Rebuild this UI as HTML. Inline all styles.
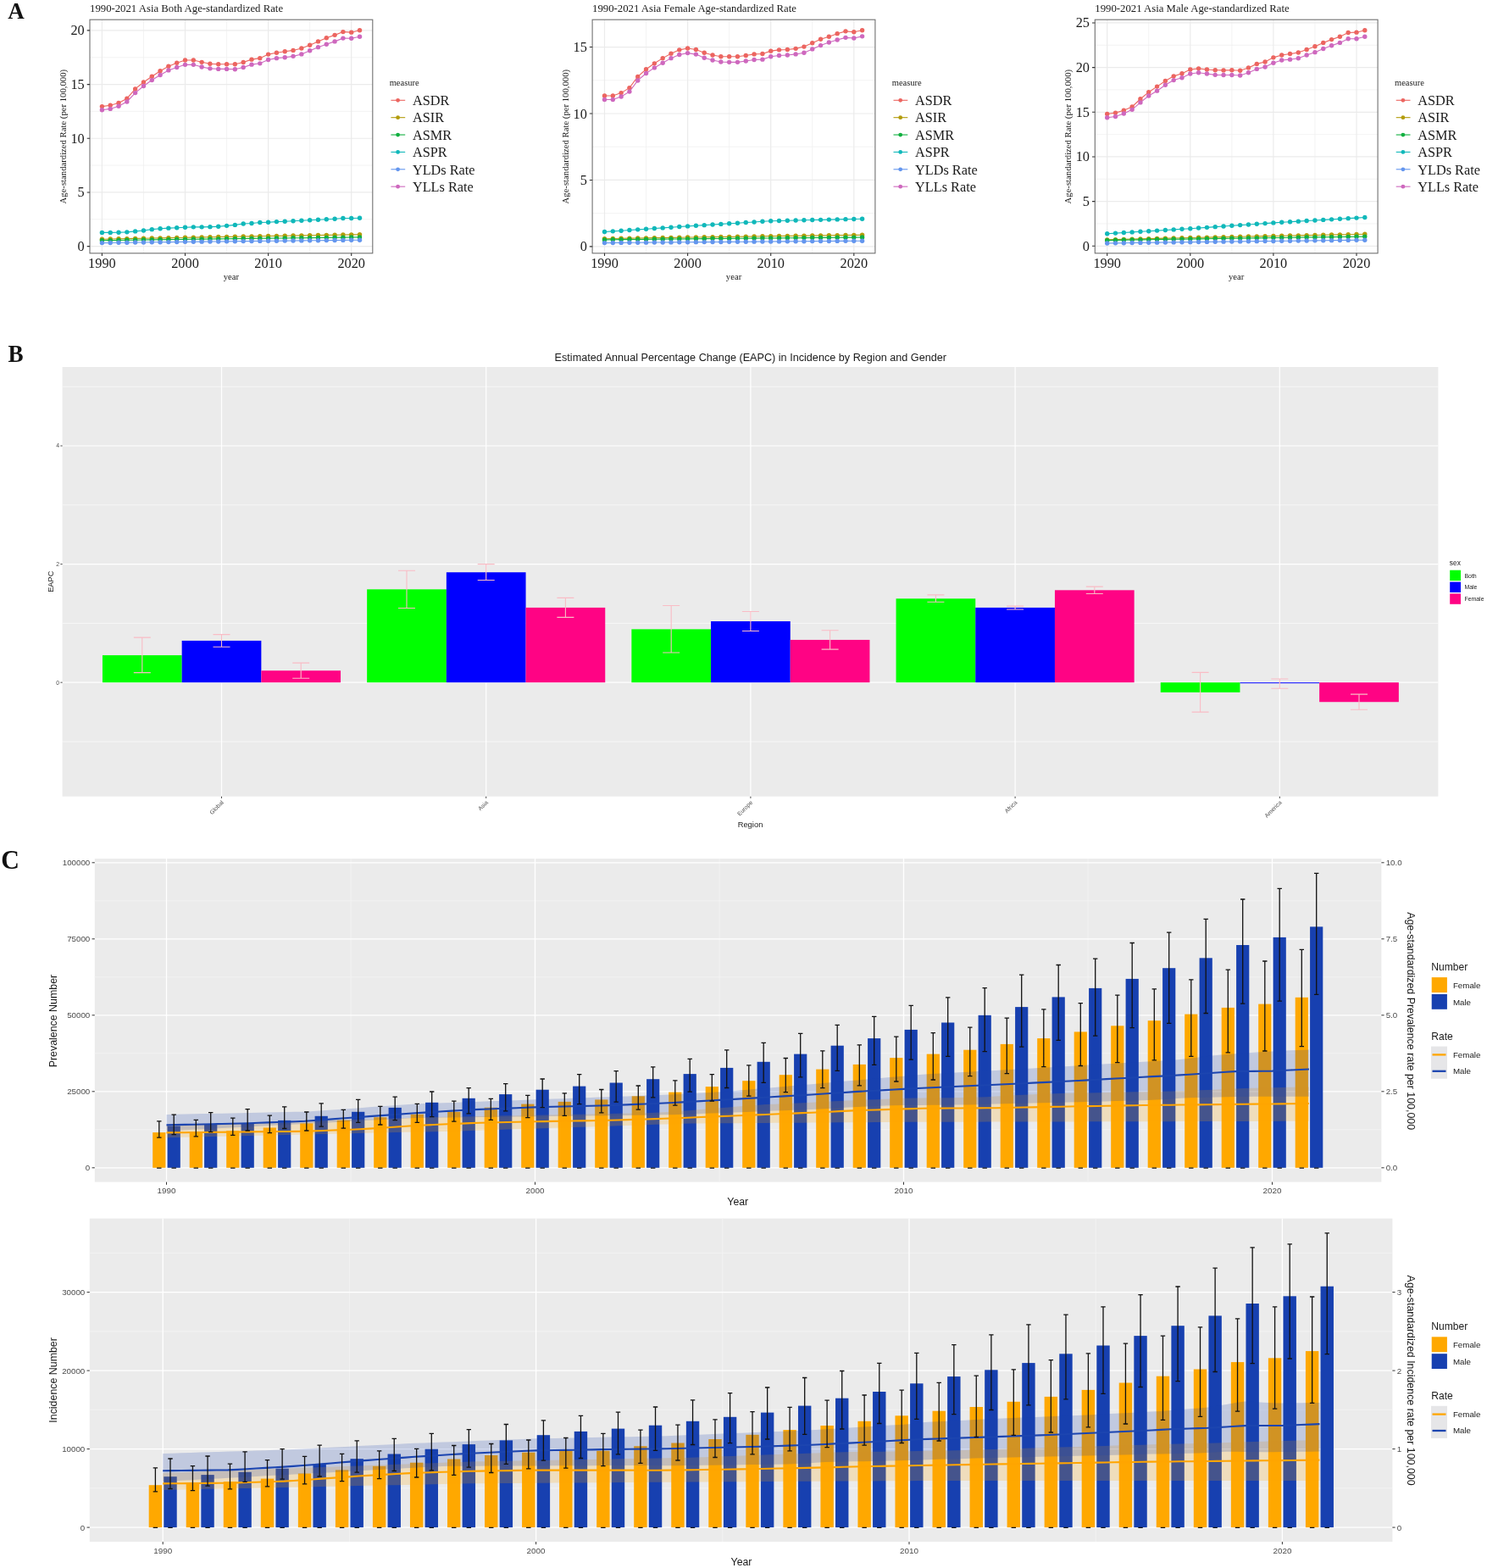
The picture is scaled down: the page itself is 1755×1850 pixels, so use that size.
<!DOCTYPE html><html><head><meta charset="utf-8"><title>Figure</title><style>html,body{margin:0;padding:0;background:#fff;}svg{display:block;}</style></head><body>
<svg width="1755" height="1850" viewBox="0 0 1755 1850">
<rect width="1755" height="1850" fill="#fff"/>
<text x="9.3" y="21.7" font-family="'Liberation Serif', 'Times New Roman', serif" font-weight="bold" font-size="27" fill="#111">A</text>
<text x="106" y="13.9" font-family="'Liberation Serif', 'Times New Roman', serif" font-size="12.75" fill="#1a1a1a">1990-2021 Asia Both Age-standardized Rate</text>
<rect x="106" y="23.2" width="333.8" height="275.6" fill="#fff"/>
<path d="M169.45 23.2V298.8M267.55 23.2V298.8M365.65 23.2V298.8M106 258.76H439.8M106 195.09H439.8M106 131.41H439.8M106 67.74H439.8" stroke="#F0F0F0" stroke-width="0.8" fill="none"/>
<path d="M120.4 23.2V298.8M218.5 23.2V298.8M316.6 23.2V298.8M414.7 23.2V298.8M106 290.6H439.8M106 226.93H439.8M106 163.25H439.8M106 99.58H439.8M106 35.9H439.8" stroke="#EBEBEB" stroke-width="1.2" fill="none"/>
<polyline points="120.4,282.3 130.21,282.05 140.02,281.82 149.83,281.62 159.64,281.41 169.45,281.22 179.26,281.02 189.07,280.83 198.88,280.65 208.69,280.46 218.5,280.28 228.31,280.1 238.12,279.92 247.93,279.74 257.74,279.56 267.55,279.39 277.36,279.21 287.17,279.04 296.98,278.87 306.79,278.7 316.6,278.53 326.41,278.36 336.22,278.19 346.03,278.02 355.84,277.85 365.65,277.69 375.46,277.52 385.27,277.35 395.08,277.19 404.89,277.03 414.7,276.86 424.51,276.7" fill="none" stroke="#B39C0C" stroke-width="1.1"/>
<g fill="#B39C0C"><circle cx="120.4" cy="282.3" r="2.7"/><circle cx="130.21" cy="282.05" r="2.7"/><circle cx="140.02" cy="281.82" r="2.7"/><circle cx="149.83" cy="281.62" r="2.7"/><circle cx="159.64" cy="281.41" r="2.7"/><circle cx="169.45" cy="281.22" r="2.7"/><circle cx="179.26" cy="281.02" r="2.7"/><circle cx="189.07" cy="280.83" r="2.7"/><circle cx="198.88" cy="280.65" r="2.7"/><circle cx="208.69" cy="280.46" r="2.7"/><circle cx="218.5" cy="280.28" r="2.7"/><circle cx="228.31" cy="280.1" r="2.7"/><circle cx="238.12" cy="279.92" r="2.7"/><circle cx="247.93" cy="279.74" r="2.7"/><circle cx="257.74" cy="279.56" r="2.7"/><circle cx="267.55" cy="279.39" r="2.7"/><circle cx="277.36" cy="279.21" r="2.7"/><circle cx="287.17" cy="279.04" r="2.7"/><circle cx="296.98" cy="278.87" r="2.7"/><circle cx="306.79" cy="278.7" r="2.7"/><circle cx="316.6" cy="278.53" r="2.7"/><circle cx="326.41" cy="278.36" r="2.7"/><circle cx="336.22" cy="278.19" r="2.7"/><circle cx="346.03" cy="278.02" r="2.7"/><circle cx="355.84" cy="277.85" r="2.7"/><circle cx="365.65" cy="277.69" r="2.7"/><circle cx="375.46" cy="277.52" r="2.7"/><circle cx="385.27" cy="277.35" r="2.7"/><circle cx="395.08" cy="277.19" r="2.7"/><circle cx="404.89" cy="277.03" r="2.7"/><circle cx="414.7" cy="276.86" r="2.7"/><circle cx="424.51" cy="276.7" r="2.7"/></g>
<polyline points="120.4,283.8 130.21,283.62 140.02,283.47 149.83,283.32 159.64,283.18 169.45,283.05 179.26,282.91 189.07,282.78 198.88,282.65 208.69,282.52 218.5,282.39 228.31,282.27 238.12,282.14 247.93,282.02 257.74,281.89 267.55,281.77 277.36,281.65 287.17,281.53 296.98,281.41 306.79,281.29 316.6,281.17 326.41,281.05 336.22,280.94 346.03,280.82 355.84,280.7 365.65,280.59 375.46,280.47 385.27,280.36 395.08,280.24 404.89,280.13 414.7,280.01 424.51,279.9" fill="none" stroke="#12B040" stroke-width="1.1"/>
<g fill="#12B040"><circle cx="120.4" cy="283.8" r="2.7"/><circle cx="130.21" cy="283.62" r="2.7"/><circle cx="140.02" cy="283.47" r="2.7"/><circle cx="149.83" cy="283.32" r="2.7"/><circle cx="159.64" cy="283.18" r="2.7"/><circle cx="169.45" cy="283.05" r="2.7"/><circle cx="179.26" cy="282.91" r="2.7"/><circle cx="189.07" cy="282.78" r="2.7"/><circle cx="198.88" cy="282.65" r="2.7"/><circle cx="208.69" cy="282.52" r="2.7"/><circle cx="218.5" cy="282.39" r="2.7"/><circle cx="228.31" cy="282.27" r="2.7"/><circle cx="238.12" cy="282.14" r="2.7"/><circle cx="247.93" cy="282.02" r="2.7"/><circle cx="257.74" cy="281.89" r="2.7"/><circle cx="267.55" cy="281.77" r="2.7"/><circle cx="277.36" cy="281.65" r="2.7"/><circle cx="287.17" cy="281.53" r="2.7"/><circle cx="296.98" cy="281.41" r="2.7"/><circle cx="306.79" cy="281.29" r="2.7"/><circle cx="316.6" cy="281.17" r="2.7"/><circle cx="326.41" cy="281.05" r="2.7"/><circle cx="336.22" cy="280.94" r="2.7"/><circle cx="346.03" cy="280.82" r="2.7"/><circle cx="355.84" cy="280.7" r="2.7"/><circle cx="365.65" cy="280.59" r="2.7"/><circle cx="375.46" cy="280.47" r="2.7"/><circle cx="385.27" cy="280.36" r="2.7"/><circle cx="395.08" cy="280.24" r="2.7"/><circle cx="404.89" cy="280.13" r="2.7"/><circle cx="414.7" cy="280.01" r="2.7"/><circle cx="424.51" cy="279.9" r="2.7"/></g>
<polyline points="120.4,274.41 130.21,274.41 140.02,274.22 149.83,273.85 159.64,272.91 169.45,271.97 179.26,270.65 189.07,269.71 198.88,269.15 208.69,268.77 218.5,268.21 228.31,267.83 238.12,267.83 247.93,267.64 257.74,267.27 267.55,266.33 277.36,265.39 287.17,264.07 296.98,263.51 306.79,262.56 316.6,262.19 326.41,261.62 336.22,261.25 346.03,260.68 355.84,260.31 365.65,259.74 375.46,259.18 385.27,258.8 395.08,258.24 404.89,257.49 414.7,257.49 424.51,257.3" fill="none" stroke="#10B8BA" stroke-width="1.1"/>
<g fill="#10B8BA"><circle cx="120.4" cy="274.41" r="2.7"/><circle cx="130.21" cy="274.41" r="2.7"/><circle cx="140.02" cy="274.22" r="2.7"/><circle cx="149.83" cy="273.85" r="2.7"/><circle cx="159.64" cy="272.91" r="2.7"/><circle cx="169.45" cy="271.97" r="2.7"/><circle cx="179.26" cy="270.65" r="2.7"/><circle cx="189.07" cy="269.71" r="2.7"/><circle cx="198.88" cy="269.15" r="2.7"/><circle cx="208.69" cy="268.77" r="2.7"/><circle cx="218.5" cy="268.21" r="2.7"/><circle cx="228.31" cy="267.83" r="2.7"/><circle cx="238.12" cy="267.83" r="2.7"/><circle cx="247.93" cy="267.64" r="2.7"/><circle cx="257.74" cy="267.27" r="2.7"/><circle cx="267.55" cy="266.33" r="2.7"/><circle cx="277.36" cy="265.39" r="2.7"/><circle cx="287.17" cy="264.07" r="2.7"/><circle cx="296.98" cy="263.51" r="2.7"/><circle cx="306.79" cy="262.56" r="2.7"/><circle cx="316.6" cy="262.19" r="2.7"/><circle cx="326.41" cy="261.62" r="2.7"/><circle cx="336.22" cy="261.25" r="2.7"/><circle cx="346.03" cy="260.68" r="2.7"/><circle cx="355.84" cy="260.31" r="2.7"/><circle cx="365.65" cy="259.74" r="2.7"/><circle cx="375.46" cy="259.18" r="2.7"/><circle cx="385.27" cy="258.8" r="2.7"/><circle cx="395.08" cy="258.24" r="2.7"/><circle cx="404.89" cy="257.49" r="2.7"/><circle cx="414.7" cy="257.49" r="2.7"/><circle cx="424.51" cy="257.3" r="2.7"/></g>
<polyline points="120.4,286.6 130.21,286.45 140.02,286.31 149.83,286.18 159.64,286.06 169.45,285.94 179.26,285.82 189.07,285.71 198.88,285.6 208.69,285.48 218.5,285.37 228.31,285.26 238.12,285.15 247.93,285.04 257.74,284.94 267.55,284.83 277.36,284.73 287.17,284.62 296.98,284.52 306.79,284.41 316.6,284.31 326.41,284.21 336.22,284.1 346.03,284 355.84,283.9 365.65,283.8 375.46,283.7 385.27,283.6 395.08,283.5 404.89,283.4 414.7,283.3 424.51,283.2" fill="none" stroke="#6496EE" stroke-width="1.1"/>
<g fill="#6496EE"><circle cx="120.4" cy="286.6" r="2.7"/><circle cx="130.21" cy="286.45" r="2.7"/><circle cx="140.02" cy="286.31" r="2.7"/><circle cx="149.83" cy="286.18" r="2.7"/><circle cx="159.64" cy="286.06" r="2.7"/><circle cx="169.45" cy="285.94" r="2.7"/><circle cx="179.26" cy="285.82" r="2.7"/><circle cx="189.07" cy="285.71" r="2.7"/><circle cx="198.88" cy="285.6" r="2.7"/><circle cx="208.69" cy="285.48" r="2.7"/><circle cx="218.5" cy="285.37" r="2.7"/><circle cx="228.31" cy="285.26" r="2.7"/><circle cx="238.12" cy="285.15" r="2.7"/><circle cx="247.93" cy="285.04" r="2.7"/><circle cx="257.74" cy="284.94" r="2.7"/><circle cx="267.55" cy="284.83" r="2.7"/><circle cx="277.36" cy="284.73" r="2.7"/><circle cx="287.17" cy="284.62" r="2.7"/><circle cx="296.98" cy="284.52" r="2.7"/><circle cx="306.79" cy="284.41" r="2.7"/><circle cx="316.6" cy="284.31" r="2.7"/><circle cx="326.41" cy="284.21" r="2.7"/><circle cx="336.22" cy="284.1" r="2.7"/><circle cx="346.03" cy="284" r="2.7"/><circle cx="355.84" cy="283.9" r="2.7"/><circle cx="365.65" cy="283.8" r="2.7"/><circle cx="375.46" cy="283.7" r="2.7"/><circle cx="385.27" cy="283.6" r="2.7"/><circle cx="395.08" cy="283.5" r="2.7"/><circle cx="404.89" cy="283.4" r="2.7"/><circle cx="414.7" cy="283.3" r="2.7"/><circle cx="424.51" cy="283.2" r="2.7"/></g>
<polyline points="120.4,125.6 130.21,124.29 140.02,121.46 149.83,116.2 159.64,104.92 169.45,97.02 179.26,90.25 189.07,83.67 198.88,78.22 208.69,74.27 218.5,71.07 228.31,71.07 238.12,73.33 247.93,75.21 257.74,75.77 267.55,75.77 277.36,75.77 287.17,73.51 296.98,70.13 306.79,68.63 316.6,64.11 326.41,62.23 336.22,60.73 346.03,59.41 355.84,56.97 365.65,53.21 375.46,48.88 385.27,44.74 395.08,41.36 404.89,37.6 414.7,38.16 424.51,35.72" fill="none" stroke="#EC6560" stroke-width="1.1"/>
<g fill="#EC6560"><circle cx="120.4" cy="125.6" r="2.7"/><circle cx="130.21" cy="124.29" r="2.7"/><circle cx="140.02" cy="121.46" r="2.7"/><circle cx="149.83" cy="116.2" r="2.7"/><circle cx="159.64" cy="104.92" r="2.7"/><circle cx="169.45" cy="97.02" r="2.7"/><circle cx="179.26" cy="90.25" r="2.7"/><circle cx="189.07" cy="83.67" r="2.7"/><circle cx="198.88" cy="78.22" r="2.7"/><circle cx="208.69" cy="74.27" r="2.7"/><circle cx="218.5" cy="71.07" r="2.7"/><circle cx="228.31" cy="71.07" r="2.7"/><circle cx="238.12" cy="73.33" r="2.7"/><circle cx="247.93" cy="75.21" r="2.7"/><circle cx="257.74" cy="75.77" r="2.7"/><circle cx="267.55" cy="75.77" r="2.7"/><circle cx="277.36" cy="75.77" r="2.7"/><circle cx="287.17" cy="73.51" r="2.7"/><circle cx="296.98" cy="70.13" r="2.7"/><circle cx="306.79" cy="68.63" r="2.7"/><circle cx="316.6" cy="64.11" r="2.7"/><circle cx="326.41" cy="62.23" r="2.7"/><circle cx="336.22" cy="60.73" r="2.7"/><circle cx="346.03" cy="59.41" r="2.7"/><circle cx="355.84" cy="56.97" r="2.7"/><circle cx="365.65" cy="53.21" r="2.7"/><circle cx="375.46" cy="48.88" r="2.7"/><circle cx="385.27" cy="44.74" r="2.7"/><circle cx="395.08" cy="41.36" r="2.7"/><circle cx="404.89" cy="37.6" r="2.7"/><circle cx="414.7" cy="38.16" r="2.7"/><circle cx="424.51" cy="35.72" r="2.7"/></g>
<polyline points="120.4,129.74 130.21,128.42 140.02,125.23 149.83,119.96 159.64,109.62 169.45,101.53 179.26,94.58 189.07,88.56 198.88,82.92 208.69,79.53 218.5,76.34 228.31,76.34 238.12,78.97 247.93,80.85 257.74,81.41 267.55,81.41 277.36,81.79 287.17,79.53 296.98,76.15 306.79,74.83 316.6,70.51 326.41,68.63 336.22,67.69 346.03,66.37 355.84,63.92 365.65,59.79 375.46,55.65 385.27,52.27 395.08,48.88 404.89,45.12 414.7,45.31 424.51,43.24" fill="none" stroke="#CE68BE" stroke-width="1.1"/>
<g fill="#CE68BE"><circle cx="120.4" cy="129.74" r="2.7"/><circle cx="130.21" cy="128.42" r="2.7"/><circle cx="140.02" cy="125.23" r="2.7"/><circle cx="149.83" cy="119.96" r="2.7"/><circle cx="159.64" cy="109.62" r="2.7"/><circle cx="169.45" cy="101.53" r="2.7"/><circle cx="179.26" cy="94.58" r="2.7"/><circle cx="189.07" cy="88.56" r="2.7"/><circle cx="198.88" cy="82.92" r="2.7"/><circle cx="208.69" cy="79.53" r="2.7"/><circle cx="218.5" cy="76.34" r="2.7"/><circle cx="228.31" cy="76.34" r="2.7"/><circle cx="238.12" cy="78.97" r="2.7"/><circle cx="247.93" cy="80.85" r="2.7"/><circle cx="257.74" cy="81.41" r="2.7"/><circle cx="267.55" cy="81.41" r="2.7"/><circle cx="277.36" cy="81.79" r="2.7"/><circle cx="287.17" cy="79.53" r="2.7"/><circle cx="296.98" cy="76.15" r="2.7"/><circle cx="306.79" cy="74.83" r="2.7"/><circle cx="316.6" cy="70.51" r="2.7"/><circle cx="326.41" cy="68.63" r="2.7"/><circle cx="336.22" cy="67.69" r="2.7"/><circle cx="346.03" cy="66.37" r="2.7"/><circle cx="355.84" cy="63.92" r="2.7"/><circle cx="365.65" cy="59.79" r="2.7"/><circle cx="375.46" cy="55.65" r="2.7"/><circle cx="385.27" cy="52.27" r="2.7"/><circle cx="395.08" cy="48.88" r="2.7"/><circle cx="404.89" cy="45.12" r="2.7"/><circle cx="414.7" cy="45.31" r="2.7"/><circle cx="424.51" cy="43.24" r="2.7"/></g>
<rect x="106" y="23.2" width="333.8" height="275.6" fill="none" stroke="#707070" stroke-width="1.1"/>
<path d="M102.7 290.6H106M102.7 226.93H106M102.7 163.25H106M102.7 99.58H106M102.7 35.9H106M120.4 298.8V302.1M218.5 298.8V302.1M316.6 298.8V302.1M414.7 298.8V302.1" stroke="#333" stroke-width="1.1" fill="none"/>
<text x="99.7" y="296.1" text-anchor="end" font-family="'Liberation Serif', 'Times New Roman', serif" font-size="16.3" fill="#1a1a1a">0</text>
<text x="99.7" y="232.43" text-anchor="end" font-family="'Liberation Serif', 'Times New Roman', serif" font-size="16.3" fill="#1a1a1a">5</text>
<text x="99.7" y="168.75" text-anchor="end" font-family="'Liberation Serif', 'Times New Roman', serif" font-size="16.3" fill="#1a1a1a">10</text>
<text x="99.7" y="105.08" text-anchor="end" font-family="'Liberation Serif', 'Times New Roman', serif" font-size="16.3" fill="#1a1a1a">15</text>
<text x="99.7" y="41.4" text-anchor="end" font-family="'Liberation Serif', 'Times New Roman', serif" font-size="16.3" fill="#1a1a1a">20</text>
<text x="120.4" y="316.4" text-anchor="middle" font-family="'Liberation Serif', 'Times New Roman', serif" font-size="16.3" fill="#1a1a1a">1990</text>
<text x="218.5" y="316.4" text-anchor="middle" font-family="'Liberation Serif', 'Times New Roman', serif" font-size="16.3" fill="#1a1a1a">2000</text>
<text x="316.6" y="316.4" text-anchor="middle" font-family="'Liberation Serif', 'Times New Roman', serif" font-size="16.3" fill="#1a1a1a">2010</text>
<text x="414.7" y="316.4" text-anchor="middle" font-family="'Liberation Serif', 'Times New Roman', serif" font-size="16.3" fill="#1a1a1a">2020</text>
<text x="272.9" y="330" text-anchor="middle" font-family="'Liberation Serif', 'Times New Roman', serif" font-size="10.7" fill="#1a1a1a">year</text>
<text transform="translate(77.7,161.2) rotate(-90)" text-anchor="middle" font-family="'Liberation Serif', 'Times New Roman', serif" font-size="10.7" fill="#1a1a1a">Age-standardized Rate (per 100,000)</text>
<text x="459.7" y="101.1" font-family="'Liberation Serif', 'Times New Roman', serif" font-size="10.5" fill="#1a1a1a">measure</text>
<path d="M461.4 118.3H478.2" stroke="#EC6560" stroke-width="1.1"/>
<circle cx="469.6" cy="118.3" r="2.4" fill="#EC6560"/>
<text x="486.9" y="124.1" font-family="'Liberation Serif', 'Times New Roman', serif" font-size="16.3" fill="#1a1a1a">ASDR</text>
<path d="M461.4 138.67H478.2" stroke="#B39C0C" stroke-width="1.1"/>
<circle cx="469.6" cy="138.67" r="2.4" fill="#B39C0C"/>
<text x="486.9" y="144.47" font-family="'Liberation Serif', 'Times New Roman', serif" font-size="16.3" fill="#1a1a1a">ASIR</text>
<path d="M461.4 159.04H478.2" stroke="#12B040" stroke-width="1.1"/>
<circle cx="469.6" cy="159.04" r="2.4" fill="#12B040"/>
<text x="486.9" y="164.84" font-family="'Liberation Serif', 'Times New Roman', serif" font-size="16.3" fill="#1a1a1a">ASMR</text>
<path d="M461.4 179.41H478.2" stroke="#10B8BA" stroke-width="1.1"/>
<circle cx="469.6" cy="179.41" r="2.4" fill="#10B8BA"/>
<text x="486.9" y="185.21" font-family="'Liberation Serif', 'Times New Roman', serif" font-size="16.3" fill="#1a1a1a">ASPR</text>
<path d="M461.4 199.78H478.2" stroke="#6496EE" stroke-width="1.1"/>
<circle cx="469.6" cy="199.78" r="2.4" fill="#6496EE"/>
<text x="486.9" y="205.58" font-family="'Liberation Serif', 'Times New Roman', serif" font-size="16.3" fill="#1a1a1a">YLDs Rate</text>
<path d="M461.4 220.15H478.2" stroke="#CE68BE" stroke-width="1.1"/>
<circle cx="469.6" cy="220.15" r="2.4" fill="#CE68BE"/>
<text x="486.9" y="225.95" font-family="'Liberation Serif', 'Times New Roman', serif" font-size="16.3" fill="#1a1a1a">YLLs Rate</text>
<text x="699.1" y="13.9" font-family="'Liberation Serif', 'Times New Roman', serif" font-size="12.75" fill="#1a1a1a">1990-2021 Asia Female Age-standardized Rate</text>
<rect x="699.1" y="23.2" width="333.8" height="275.6" fill="#fff"/>
<path d="M762.55 23.2V298.8M860.65 23.2V298.8M958.75 23.2V298.8M699.1 251.67H1032.9M699.1 173.22H1032.9M699.1 94.77H1032.9" stroke="#F0F0F0" stroke-width="0.8" fill="none"/>
<path d="M713.5 23.2V298.8M811.6 23.2V298.8M909.7 23.2V298.8M1007.8 23.2V298.8M699.1 290.9H1032.9M699.1 212.45H1032.9M699.1 134H1032.9M699.1 55.55H1032.9" stroke="#EBEBEB" stroke-width="1.2" fill="none"/>
<polyline points="713.5,281.7 723.31,281.5 733.12,281.32 742.93,281.15 752.74,280.99 762.55,280.83 772.36,280.67 782.17,280.52 791.98,280.37 801.79,280.22 811.6,280.07 821.41,279.93 831.22,279.78 841.03,279.64 850.84,279.5 860.65,279.36 870.46,279.22 880.27,279.08 890.08,278.94 899.89,278.8 909.7,278.67 919.51,278.53 929.32,278.4 939.13,278.26 948.94,278.13 958.75,277.99 968.56,277.86 978.37,277.73 988.18,277.59 997.99,277.46 1007.8,277.33 1017.61,277.2" fill="none" stroke="#B39C0C" stroke-width="1.1"/>
<g fill="#B39C0C"><circle cx="713.5" cy="281.7" r="2.7"/><circle cx="723.31" cy="281.5" r="2.7"/><circle cx="733.12" cy="281.32" r="2.7"/><circle cx="742.93" cy="281.15" r="2.7"/><circle cx="752.74" cy="280.99" r="2.7"/><circle cx="762.55" cy="280.83" r="2.7"/><circle cx="772.36" cy="280.67" r="2.7"/><circle cx="782.17" cy="280.52" r="2.7"/><circle cx="791.98" cy="280.37" r="2.7"/><circle cx="801.79" cy="280.22" r="2.7"/><circle cx="811.6" cy="280.07" r="2.7"/><circle cx="821.41" cy="279.93" r="2.7"/><circle cx="831.22" cy="279.78" r="2.7"/><circle cx="841.03" cy="279.64" r="2.7"/><circle cx="850.84" cy="279.5" r="2.7"/><circle cx="860.65" cy="279.36" r="2.7"/><circle cx="870.46" cy="279.22" r="2.7"/><circle cx="880.27" cy="279.08" r="2.7"/><circle cx="890.08" cy="278.94" r="2.7"/><circle cx="899.89" cy="278.8" r="2.7"/><circle cx="909.7" cy="278.67" r="2.7"/><circle cx="919.51" cy="278.53" r="2.7"/><circle cx="929.32" cy="278.4" r="2.7"/><circle cx="939.13" cy="278.26" r="2.7"/><circle cx="948.94" cy="278.13" r="2.7"/><circle cx="958.75" cy="277.99" r="2.7"/><circle cx="968.56" cy="277.86" r="2.7"/><circle cx="978.37" cy="277.73" r="2.7"/><circle cx="988.18" cy="277.59" r="2.7"/><circle cx="997.99" cy="277.46" r="2.7"/><circle cx="1007.8" cy="277.33" r="2.7"/><circle cx="1017.61" cy="277.2" r="2.7"/></g>
<polyline points="713.5,282.9 723.31,282.77 733.12,282.65 742.93,282.55 752.74,282.44 762.55,282.34 772.36,282.24 782.17,282.14 791.98,282.04 801.79,281.95 811.6,281.85 821.41,281.76 831.22,281.67 841.03,281.57 850.84,281.48 860.65,281.39 870.46,281.3 880.27,281.21 890.08,281.12 899.89,281.03 909.7,280.95 919.51,280.86 929.32,280.77 939.13,280.68 948.94,280.6 958.75,280.51 968.56,280.42 978.37,280.34 988.18,280.25 997.99,280.17 1007.8,280.08 1017.61,280" fill="none" stroke="#12B040" stroke-width="1.1"/>
<g fill="#12B040"><circle cx="713.5" cy="282.9" r="2.7"/><circle cx="723.31" cy="282.77" r="2.7"/><circle cx="733.12" cy="282.65" r="2.7"/><circle cx="742.93" cy="282.55" r="2.7"/><circle cx="752.74" cy="282.44" r="2.7"/><circle cx="762.55" cy="282.34" r="2.7"/><circle cx="772.36" cy="282.24" r="2.7"/><circle cx="782.17" cy="282.14" r="2.7"/><circle cx="791.98" cy="282.04" r="2.7"/><circle cx="801.79" cy="281.95" r="2.7"/><circle cx="811.6" cy="281.85" r="2.7"/><circle cx="821.41" cy="281.76" r="2.7"/><circle cx="831.22" cy="281.67" r="2.7"/><circle cx="841.03" cy="281.57" r="2.7"/><circle cx="850.84" cy="281.48" r="2.7"/><circle cx="860.65" cy="281.39" r="2.7"/><circle cx="870.46" cy="281.3" r="2.7"/><circle cx="880.27" cy="281.21" r="2.7"/><circle cx="890.08" cy="281.12" r="2.7"/><circle cx="899.89" cy="281.03" r="2.7"/><circle cx="909.7" cy="280.95" r="2.7"/><circle cx="919.51" cy="280.86" r="2.7"/><circle cx="929.32" cy="280.77" r="2.7"/><circle cx="939.13" cy="280.68" r="2.7"/><circle cx="948.94" cy="280.6" r="2.7"/><circle cx="958.75" cy="280.51" r="2.7"/><circle cx="968.56" cy="280.42" r="2.7"/><circle cx="978.37" cy="280.34" r="2.7"/><circle cx="988.18" cy="280.25" r="2.7"/><circle cx="997.99" cy="280.17" r="2.7"/><circle cx="1007.8" cy="280.08" r="2.7"/><circle cx="1017.61" cy="280" r="2.7"/></g>
<polyline points="713.5,273.5 723.31,272.84 733.12,272.18 742.93,271.52 752.74,270.86 762.55,270.2 772.36,269.54 782.17,268.88 791.98,268.22 801.79,267.56 811.6,266.9 821.41,266.28 831.22,265.66 841.03,265.04 850.84,264.42 860.65,263.8 870.46,263.18 880.27,262.56 890.08,261.94 899.89,261.32 909.7,260.7 919.51,260.47 929.32,260.25 939.13,260.02 948.94,259.79 958.75,259.56 968.56,259.34 978.37,259.11 988.18,258.88 997.99,258.65 1007.8,258.43 1017.61,258.2" fill="none" stroke="#10B8BA" stroke-width="1.1"/>
<g fill="#10B8BA"><circle cx="713.5" cy="273.5" r="2.7"/><circle cx="723.31" cy="272.84" r="2.7"/><circle cx="733.12" cy="272.18" r="2.7"/><circle cx="742.93" cy="271.52" r="2.7"/><circle cx="752.74" cy="270.86" r="2.7"/><circle cx="762.55" cy="270.2" r="2.7"/><circle cx="772.36" cy="269.54" r="2.7"/><circle cx="782.17" cy="268.88" r="2.7"/><circle cx="791.98" cy="268.22" r="2.7"/><circle cx="801.79" cy="267.56" r="2.7"/><circle cx="811.6" cy="266.9" r="2.7"/><circle cx="821.41" cy="266.28" r="2.7"/><circle cx="831.22" cy="265.66" r="2.7"/><circle cx="841.03" cy="265.04" r="2.7"/><circle cx="850.84" cy="264.42" r="2.7"/><circle cx="860.65" cy="263.8" r="2.7"/><circle cx="870.46" cy="263.18" r="2.7"/><circle cx="880.27" cy="262.56" r="2.7"/><circle cx="890.08" cy="261.94" r="2.7"/><circle cx="899.89" cy="261.32" r="2.7"/><circle cx="909.7" cy="260.7" r="2.7"/><circle cx="919.51" cy="260.47" r="2.7"/><circle cx="929.32" cy="260.25" r="2.7"/><circle cx="939.13" cy="260.02" r="2.7"/><circle cx="948.94" cy="259.79" r="2.7"/><circle cx="958.75" cy="259.56" r="2.7"/><circle cx="968.56" cy="259.34" r="2.7"/><circle cx="978.37" cy="259.11" r="2.7"/><circle cx="988.18" cy="258.88" r="2.7"/><circle cx="997.99" cy="258.65" r="2.7"/><circle cx="1007.8" cy="258.43" r="2.7"/><circle cx="1017.61" cy="258.2" r="2.7"/></g>
<polyline points="713.5,286.6 723.31,286.49 733.12,286.4 742.93,286.31 752.74,286.22 762.55,286.14 772.36,286.05 782.17,285.97 791.98,285.89 801.79,285.81 811.6,285.73 821.41,285.66 831.22,285.58 841.03,285.5 850.84,285.43 860.65,285.35 870.46,285.28 880.27,285.2 890.08,285.13 899.89,285.06 909.7,284.98 919.51,284.91 929.32,284.84 939.13,284.77 948.94,284.69 958.75,284.62 968.56,284.55 978.37,284.48 988.18,284.41 997.99,284.34 1007.8,284.27 1017.61,284.2" fill="none" stroke="#6496EE" stroke-width="1.1"/>
<g fill="#6496EE"><circle cx="713.5" cy="286.6" r="2.7"/><circle cx="723.31" cy="286.49" r="2.7"/><circle cx="733.12" cy="286.4" r="2.7"/><circle cx="742.93" cy="286.31" r="2.7"/><circle cx="752.74" cy="286.22" r="2.7"/><circle cx="762.55" cy="286.14" r="2.7"/><circle cx="772.36" cy="286.05" r="2.7"/><circle cx="782.17" cy="285.97" r="2.7"/><circle cx="791.98" cy="285.89" r="2.7"/><circle cx="801.79" cy="285.81" r="2.7"/><circle cx="811.6" cy="285.73" r="2.7"/><circle cx="821.41" cy="285.66" r="2.7"/><circle cx="831.22" cy="285.58" r="2.7"/><circle cx="841.03" cy="285.5" r="2.7"/><circle cx="850.84" cy="285.43" r="2.7"/><circle cx="860.65" cy="285.35" r="2.7"/><circle cx="870.46" cy="285.28" r="2.7"/><circle cx="880.27" cy="285.2" r="2.7"/><circle cx="890.08" cy="285.13" r="2.7"/><circle cx="899.89" cy="285.06" r="2.7"/><circle cx="909.7" cy="284.98" r="2.7"/><circle cx="919.51" cy="284.91" r="2.7"/><circle cx="929.32" cy="284.84" r="2.7"/><circle cx="939.13" cy="284.77" r="2.7"/><circle cx="948.94" cy="284.69" r="2.7"/><circle cx="958.75" cy="284.62" r="2.7"/><circle cx="968.56" cy="284.55" r="2.7"/><circle cx="978.37" cy="284.48" r="2.7"/><circle cx="988.18" cy="284.41" r="2.7"/><circle cx="997.99" cy="284.34" r="2.7"/><circle cx="1007.8" cy="284.27" r="2.7"/><circle cx="1017.61" cy="284.2" r="2.7"/></g>
<polyline points="713.5,113 723.31,113 733.12,109.62 742.93,103.6 752.74,90.44 762.55,81.79 772.36,74.83 782.17,68.63 791.98,63.17 801.79,58.85 811.6,56.97 821.41,58.47 831.22,62.23 841.03,65.05 850.84,66.75 860.65,66.75 870.46,66.75 880.27,65.43 890.08,63.92 899.89,63.55 909.7,60.16 919.51,58.85 929.32,58.47 939.13,57.34 948.94,55.09 958.75,50.76 968.56,46.25 978.37,43.24 988.18,39.67 997.99,36.85 1007.8,37.79 1017.61,35.72" fill="none" stroke="#EC6560" stroke-width="1.1"/>
<g fill="#EC6560"><circle cx="713.5" cy="113" r="2.7"/><circle cx="723.31" cy="113" r="2.7"/><circle cx="733.12" cy="109.62" r="2.7"/><circle cx="742.93" cy="103.6" r="2.7"/><circle cx="752.74" cy="90.44" r="2.7"/><circle cx="762.55" cy="81.79" r="2.7"/><circle cx="772.36" cy="74.83" r="2.7"/><circle cx="782.17" cy="68.63" r="2.7"/><circle cx="791.98" cy="63.17" r="2.7"/><circle cx="801.79" cy="58.85" r="2.7"/><circle cx="811.6" cy="56.97" r="2.7"/><circle cx="821.41" cy="58.47" r="2.7"/><circle cx="831.22" cy="62.23" r="2.7"/><circle cx="841.03" cy="65.05" r="2.7"/><circle cx="850.84" cy="66.75" r="2.7"/><circle cx="860.65" cy="66.75" r="2.7"/><circle cx="870.46" cy="66.75" r="2.7"/><circle cx="880.27" cy="65.43" r="2.7"/><circle cx="890.08" cy="63.92" r="2.7"/><circle cx="899.89" cy="63.55" r="2.7"/><circle cx="909.7" cy="60.16" r="2.7"/><circle cx="919.51" cy="58.85" r="2.7"/><circle cx="929.32" cy="58.47" r="2.7"/><circle cx="939.13" cy="57.34" r="2.7"/><circle cx="948.94" cy="55.09" r="2.7"/><circle cx="958.75" cy="50.76" r="2.7"/><circle cx="968.56" cy="46.25" r="2.7"/><circle cx="978.37" cy="43.24" r="2.7"/><circle cx="988.18" cy="39.67" r="2.7"/><circle cx="997.99" cy="36.85" r="2.7"/><circle cx="1007.8" cy="37.79" r="2.7"/><circle cx="1017.61" cy="35.72" r="2.7"/></g>
<polyline points="713.5,117.52 723.31,117.52 733.12,113.94 742.93,108.11 752.74,94.95 762.55,86.49 772.36,79.91 782.17,74.27 791.98,68.63 801.79,64.49 811.6,62.61 821.41,64.11 831.22,68.25 841.03,71.07 850.84,72.95 860.65,73.33 870.46,73.33 880.27,72.01 890.08,70.51 899.89,70.13 909.7,66.75 919.51,65.43 929.32,65.05 939.13,63.92 948.94,62.23 958.75,57.91 968.56,53.58 978.37,50.01 988.18,47 997.99,44.37 1007.8,44.93 1017.61,42.86" fill="none" stroke="#CE68BE" stroke-width="1.1"/>
<g fill="#CE68BE"><circle cx="713.5" cy="117.52" r="2.7"/><circle cx="723.31" cy="117.52" r="2.7"/><circle cx="733.12" cy="113.94" r="2.7"/><circle cx="742.93" cy="108.11" r="2.7"/><circle cx="752.74" cy="94.95" r="2.7"/><circle cx="762.55" cy="86.49" r="2.7"/><circle cx="772.36" cy="79.91" r="2.7"/><circle cx="782.17" cy="74.27" r="2.7"/><circle cx="791.98" cy="68.63" r="2.7"/><circle cx="801.79" cy="64.49" r="2.7"/><circle cx="811.6" cy="62.61" r="2.7"/><circle cx="821.41" cy="64.11" r="2.7"/><circle cx="831.22" cy="68.25" r="2.7"/><circle cx="841.03" cy="71.07" r="2.7"/><circle cx="850.84" cy="72.95" r="2.7"/><circle cx="860.65" cy="73.33" r="2.7"/><circle cx="870.46" cy="73.33" r="2.7"/><circle cx="880.27" cy="72.01" r="2.7"/><circle cx="890.08" cy="70.51" r="2.7"/><circle cx="899.89" cy="70.13" r="2.7"/><circle cx="909.7" cy="66.75" r="2.7"/><circle cx="919.51" cy="65.43" r="2.7"/><circle cx="929.32" cy="65.05" r="2.7"/><circle cx="939.13" cy="63.92" r="2.7"/><circle cx="948.94" cy="62.23" r="2.7"/><circle cx="958.75" cy="57.91" r="2.7"/><circle cx="968.56" cy="53.58" r="2.7"/><circle cx="978.37" cy="50.01" r="2.7"/><circle cx="988.18" cy="47" r="2.7"/><circle cx="997.99" cy="44.37" r="2.7"/><circle cx="1007.8" cy="44.93" r="2.7"/><circle cx="1017.61" cy="42.86" r="2.7"/></g>
<rect x="699.1" y="23.2" width="333.8" height="275.6" fill="none" stroke="#707070" stroke-width="1.1"/>
<path d="M695.8 290.9H699.1M695.8 212.45H699.1M695.8 134H699.1M695.8 55.55H699.1M713.5 298.8V302.1M811.6 298.8V302.1M909.7 298.8V302.1M1007.8 298.8V302.1" stroke="#333" stroke-width="1.1" fill="none"/>
<text x="692.8" y="296.4" text-anchor="end" font-family="'Liberation Serif', 'Times New Roman', serif" font-size="16.3" fill="#1a1a1a">0</text>
<text x="692.8" y="217.95" text-anchor="end" font-family="'Liberation Serif', 'Times New Roman', serif" font-size="16.3" fill="#1a1a1a">5</text>
<text x="692.8" y="139.5" text-anchor="end" font-family="'Liberation Serif', 'Times New Roman', serif" font-size="16.3" fill="#1a1a1a">10</text>
<text x="692.8" y="61.05" text-anchor="end" font-family="'Liberation Serif', 'Times New Roman', serif" font-size="16.3" fill="#1a1a1a">15</text>
<text x="713.5" y="316.4" text-anchor="middle" font-family="'Liberation Serif', 'Times New Roman', serif" font-size="16.3" fill="#1a1a1a">1990</text>
<text x="811.6" y="316.4" text-anchor="middle" font-family="'Liberation Serif', 'Times New Roman', serif" font-size="16.3" fill="#1a1a1a">2000</text>
<text x="909.7" y="316.4" text-anchor="middle" font-family="'Liberation Serif', 'Times New Roman', serif" font-size="16.3" fill="#1a1a1a">2010</text>
<text x="1007.8" y="316.4" text-anchor="middle" font-family="'Liberation Serif', 'Times New Roman', serif" font-size="16.3" fill="#1a1a1a">2020</text>
<text x="866" y="330" text-anchor="middle" font-family="'Liberation Serif', 'Times New Roman', serif" font-size="10.7" fill="#1a1a1a">year</text>
<text transform="translate(670.8,161.2) rotate(-90)" text-anchor="middle" font-family="'Liberation Serif', 'Times New Roman', serif" font-size="10.7" fill="#1a1a1a">Age-standardized Rate (per 100,000)</text>
<text x="1052.8" y="101.1" font-family="'Liberation Serif', 'Times New Roman', serif" font-size="10.5" fill="#1a1a1a">measure</text>
<path d="M1054.5 118.3H1071.3" stroke="#EC6560" stroke-width="1.1"/>
<circle cx="1062.7" cy="118.3" r="2.4" fill="#EC6560"/>
<text x="1080" y="124.1" font-family="'Liberation Serif', 'Times New Roman', serif" font-size="16.3" fill="#1a1a1a">ASDR</text>
<path d="M1054.5 138.67H1071.3" stroke="#B39C0C" stroke-width="1.1"/>
<circle cx="1062.7" cy="138.67" r="2.4" fill="#B39C0C"/>
<text x="1080" y="144.47" font-family="'Liberation Serif', 'Times New Roman', serif" font-size="16.3" fill="#1a1a1a">ASIR</text>
<path d="M1054.5 159.04H1071.3" stroke="#12B040" stroke-width="1.1"/>
<circle cx="1062.7" cy="159.04" r="2.4" fill="#12B040"/>
<text x="1080" y="164.84" font-family="'Liberation Serif', 'Times New Roman', serif" font-size="16.3" fill="#1a1a1a">ASMR</text>
<path d="M1054.5 179.41H1071.3" stroke="#10B8BA" stroke-width="1.1"/>
<circle cx="1062.7" cy="179.41" r="2.4" fill="#10B8BA"/>
<text x="1080" y="185.21" font-family="'Liberation Serif', 'Times New Roman', serif" font-size="16.3" fill="#1a1a1a">ASPR</text>
<path d="M1054.5 199.78H1071.3" stroke="#6496EE" stroke-width="1.1"/>
<circle cx="1062.7" cy="199.78" r="2.4" fill="#6496EE"/>
<text x="1080" y="205.58" font-family="'Liberation Serif', 'Times New Roman', serif" font-size="16.3" fill="#1a1a1a">YLDs Rate</text>
<path d="M1054.5 220.15H1071.3" stroke="#CE68BE" stroke-width="1.1"/>
<circle cx="1062.7" cy="220.15" r="2.4" fill="#CE68BE"/>
<text x="1080" y="225.95" font-family="'Liberation Serif', 'Times New Roman', serif" font-size="16.3" fill="#1a1a1a">YLLs Rate</text>
<text x="1292.3" y="13.9" font-family="'Liberation Serif', 'Times New Roman', serif" font-size="12.75" fill="#1a1a1a">1990-2021 Asia Male Age-standardized Rate</text>
<rect x="1292.3" y="23.2" width="333.8" height="275.6" fill="#fff"/>
<path d="M1355.75 23.2V298.8M1453.85 23.2V298.8M1551.95 23.2V298.8M1292.3 263.96H1626.1M1292.3 211.29H1626.1M1292.3 158.61H1626.1M1292.3 105.94H1626.1M1292.3 53.26H1626.1" stroke="#F0F0F0" stroke-width="0.8" fill="none"/>
<path d="M1306.7 23.2V298.8M1404.8 23.2V298.8M1502.9 23.2V298.8M1601 23.2V298.8M1292.3 290.3H1626.1M1292.3 237.62H1626.1M1292.3 184.95H1626.1M1292.3 132.28H1626.1M1292.3 79.6H1626.1M1292.3 26.93H1626.1" stroke="#EBEBEB" stroke-width="1.2" fill="none"/>
<polyline points="1306.7,282.9 1316.51,282.6 1326.32,282.34 1336.13,282.09 1345.94,281.85 1355.75,281.62 1365.56,281.39 1375.37,281.17 1385.18,280.95 1394.99,280.73 1404.8,280.52 1414.61,280.3 1424.42,280.09 1434.23,279.88 1444.04,279.67 1453.85,279.47 1463.66,279.26 1473.47,279.06 1483.28,278.85 1493.09,278.65 1502.9,278.45 1512.71,278.25 1522.52,278.05 1532.33,277.85 1542.14,277.66 1551.95,277.46 1561.76,277.27 1571.57,277.07 1581.38,276.88 1591.19,276.68 1601,276.49 1610.81,276.3" fill="none" stroke="#B39C0C" stroke-width="1.1"/>
<g fill="#B39C0C"><circle cx="1306.7" cy="282.9" r="2.7"/><circle cx="1316.51" cy="282.6" r="2.7"/><circle cx="1326.32" cy="282.34" r="2.7"/><circle cx="1336.13" cy="282.09" r="2.7"/><circle cx="1345.94" cy="281.85" r="2.7"/><circle cx="1355.75" cy="281.62" r="2.7"/><circle cx="1365.56" cy="281.39" r="2.7"/><circle cx="1375.37" cy="281.17" r="2.7"/><circle cx="1385.18" cy="280.95" r="2.7"/><circle cx="1394.99" cy="280.73" r="2.7"/><circle cx="1404.8" cy="280.52" r="2.7"/><circle cx="1414.61" cy="280.3" r="2.7"/><circle cx="1424.42" cy="280.09" r="2.7"/><circle cx="1434.23" cy="279.88" r="2.7"/><circle cx="1444.04" cy="279.67" r="2.7"/><circle cx="1453.85" cy="279.47" r="2.7"/><circle cx="1463.66" cy="279.26" r="2.7"/><circle cx="1473.47" cy="279.06" r="2.7"/><circle cx="1483.28" cy="278.85" r="2.7"/><circle cx="1493.09" cy="278.65" r="2.7"/><circle cx="1502.9" cy="278.45" r="2.7"/><circle cx="1512.71" cy="278.25" r="2.7"/><circle cx="1522.52" cy="278.05" r="2.7"/><circle cx="1532.33" cy="277.85" r="2.7"/><circle cx="1542.14" cy="277.66" r="2.7"/><circle cx="1551.95" cy="277.46" r="2.7"/><circle cx="1561.76" cy="277.27" r="2.7"/><circle cx="1571.57" cy="277.07" r="2.7"/><circle cx="1581.38" cy="276.88" r="2.7"/><circle cx="1591.19" cy="276.68" r="2.7"/><circle cx="1601" cy="276.49" r="2.7"/><circle cx="1610.81" cy="276.3" r="2.7"/></g>
<polyline points="1306.7,283.6 1316.51,283.4 1326.32,283.22 1336.13,283.05 1345.94,282.89 1355.75,282.73 1365.56,282.57 1375.37,282.42 1385.18,282.27 1394.99,282.12 1404.8,281.97 1414.61,281.83 1424.42,281.68 1434.23,281.54 1444.04,281.4 1453.85,281.26 1463.66,281.12 1473.47,280.98 1483.28,280.84 1493.09,280.7 1502.9,280.57 1512.71,280.43 1522.52,280.3 1532.33,280.16 1542.14,280.03 1551.95,279.89 1561.76,279.76 1571.57,279.63 1581.38,279.49 1591.19,279.36 1601,279.23 1610.81,279.1" fill="none" stroke="#12B040" stroke-width="1.1"/>
<g fill="#12B040"><circle cx="1306.7" cy="283.6" r="2.7"/><circle cx="1316.51" cy="283.4" r="2.7"/><circle cx="1326.32" cy="283.22" r="2.7"/><circle cx="1336.13" cy="283.05" r="2.7"/><circle cx="1345.94" cy="282.89" r="2.7"/><circle cx="1355.75" cy="282.73" r="2.7"/><circle cx="1365.56" cy="282.57" r="2.7"/><circle cx="1375.37" cy="282.42" r="2.7"/><circle cx="1385.18" cy="282.27" r="2.7"/><circle cx="1394.99" cy="282.12" r="2.7"/><circle cx="1404.8" cy="281.97" r="2.7"/><circle cx="1414.61" cy="281.83" r="2.7"/><circle cx="1424.42" cy="281.68" r="2.7"/><circle cx="1434.23" cy="281.54" r="2.7"/><circle cx="1444.04" cy="281.4" r="2.7"/><circle cx="1453.85" cy="281.26" r="2.7"/><circle cx="1463.66" cy="281.12" r="2.7"/><circle cx="1473.47" cy="280.98" r="2.7"/><circle cx="1483.28" cy="280.84" r="2.7"/><circle cx="1493.09" cy="280.7" r="2.7"/><circle cx="1502.9" cy="280.57" r="2.7"/><circle cx="1512.71" cy="280.43" r="2.7"/><circle cx="1522.52" cy="280.3" r="2.7"/><circle cx="1532.33" cy="280.16" r="2.7"/><circle cx="1542.14" cy="280.03" r="2.7"/><circle cx="1551.95" cy="279.89" r="2.7"/><circle cx="1561.76" cy="279.76" r="2.7"/><circle cx="1571.57" cy="279.63" r="2.7"/><circle cx="1581.38" cy="279.49" r="2.7"/><circle cx="1591.19" cy="279.36" r="2.7"/><circle cx="1601" cy="279.23" r="2.7"/><circle cx="1610.81" cy="279.1" r="2.7"/></g>
<polyline points="1306.7,275.7 1316.51,275.1 1326.32,274.5 1336.13,273.9 1345.94,273.3 1355.75,272.7 1365.56,272.1 1375.37,271.5 1385.18,270.9 1394.99,270.3 1404.8,269.7 1414.61,269.02 1424.42,268.34 1434.23,267.66 1444.04,266.98 1453.85,266.3 1463.66,265.62 1473.47,264.94 1483.28,264.26 1493.09,263.58 1502.9,262.9 1512.71,262.32 1522.52,261.74 1532.33,261.15 1542.14,260.57 1551.95,259.99 1561.76,259.41 1571.57,258.83 1581.38,258.25 1591.19,257.66 1601,257.08 1610.81,256.5" fill="none" stroke="#10B8BA" stroke-width="1.1"/>
<g fill="#10B8BA"><circle cx="1306.7" cy="275.7" r="2.7"/><circle cx="1316.51" cy="275.1" r="2.7"/><circle cx="1326.32" cy="274.5" r="2.7"/><circle cx="1336.13" cy="273.9" r="2.7"/><circle cx="1345.94" cy="273.3" r="2.7"/><circle cx="1355.75" cy="272.7" r="2.7"/><circle cx="1365.56" cy="272.1" r="2.7"/><circle cx="1375.37" cy="271.5" r="2.7"/><circle cx="1385.18" cy="270.9" r="2.7"/><circle cx="1394.99" cy="270.3" r="2.7"/><circle cx="1404.8" cy="269.7" r="2.7"/><circle cx="1414.61" cy="269.02" r="2.7"/><circle cx="1424.42" cy="268.34" r="2.7"/><circle cx="1434.23" cy="267.66" r="2.7"/><circle cx="1444.04" cy="266.98" r="2.7"/><circle cx="1453.85" cy="266.3" r="2.7"/><circle cx="1463.66" cy="265.62" r="2.7"/><circle cx="1473.47" cy="264.94" r="2.7"/><circle cx="1483.28" cy="264.26" r="2.7"/><circle cx="1493.09" cy="263.58" r="2.7"/><circle cx="1502.9" cy="262.9" r="2.7"/><circle cx="1512.71" cy="262.32" r="2.7"/><circle cx="1522.52" cy="261.74" r="2.7"/><circle cx="1532.33" cy="261.15" r="2.7"/><circle cx="1542.14" cy="260.57" r="2.7"/><circle cx="1551.95" cy="259.99" r="2.7"/><circle cx="1561.76" cy="259.41" r="2.7"/><circle cx="1571.57" cy="258.83" r="2.7"/><circle cx="1581.38" cy="258.25" r="2.7"/><circle cx="1591.19" cy="257.66" r="2.7"/><circle cx="1601" cy="257.08" r="2.7"/><circle cx="1610.81" cy="256.5" r="2.7"/></g>
<polyline points="1306.7,287 1316.51,286.83 1326.32,286.68 1336.13,286.54 1345.94,286.4 1355.75,286.26 1365.56,286.13 1375.37,286 1385.18,285.88 1394.99,285.75 1404.8,285.63 1414.61,285.5 1424.42,285.38 1434.23,285.26 1444.04,285.14 1453.85,285.02 1463.66,284.9 1473.47,284.79 1483.28,284.67 1493.09,284.55 1502.9,284.44 1512.71,284.32 1522.52,284.21 1532.33,284.1 1542.14,283.98 1551.95,283.87 1561.76,283.76 1571.57,283.64 1581.38,283.53 1591.19,283.42 1601,283.31 1610.81,283.2" fill="none" stroke="#6496EE" stroke-width="1.1"/>
<g fill="#6496EE"><circle cx="1306.7" cy="287" r="2.7"/><circle cx="1316.51" cy="286.83" r="2.7"/><circle cx="1326.32" cy="286.68" r="2.7"/><circle cx="1336.13" cy="286.54" r="2.7"/><circle cx="1345.94" cy="286.4" r="2.7"/><circle cx="1355.75" cy="286.26" r="2.7"/><circle cx="1365.56" cy="286.13" r="2.7"/><circle cx="1375.37" cy="286" r="2.7"/><circle cx="1385.18" cy="285.88" r="2.7"/><circle cx="1394.99" cy="285.75" r="2.7"/><circle cx="1404.8" cy="285.63" r="2.7"/><circle cx="1414.61" cy="285.5" r="2.7"/><circle cx="1424.42" cy="285.38" r="2.7"/><circle cx="1434.23" cy="285.26" r="2.7"/><circle cx="1444.04" cy="285.14" r="2.7"/><circle cx="1453.85" cy="285.02" r="2.7"/><circle cx="1463.66" cy="284.9" r="2.7"/><circle cx="1473.47" cy="284.79" r="2.7"/><circle cx="1483.28" cy="284.67" r="2.7"/><circle cx="1493.09" cy="284.55" r="2.7"/><circle cx="1502.9" cy="284.44" r="2.7"/><circle cx="1512.71" cy="284.32" r="2.7"/><circle cx="1522.52" cy="284.21" r="2.7"/><circle cx="1532.33" cy="284.1" r="2.7"/><circle cx="1542.14" cy="283.98" r="2.7"/><circle cx="1551.95" cy="283.87" r="2.7"/><circle cx="1561.76" cy="283.76" r="2.7"/><circle cx="1571.57" cy="283.64" r="2.7"/><circle cx="1581.38" cy="283.53" r="2.7"/><circle cx="1591.19" cy="283.42" r="2.7"/><circle cx="1601" cy="283.31" r="2.7"/><circle cx="1610.81" cy="283.2" r="2.7"/></g>
<polyline points="1306.7,134.44 1316.51,133.12 1326.32,130.3 1336.13,125.98 1345.94,116.76 1355.75,108.68 1365.56,102.1 1375.37,95.52 1385.18,89.87 1394.99,86.68 1404.8,81.98 1414.61,80.85 1424.42,81.98 1434.23,82.73 1444.04,82.92 1453.85,82.73 1463.66,83.29 1473.47,79.91 1483.28,75.39 1493.09,72.95 1502.9,67.87 1512.71,65.05 1522.52,63.55 1532.33,62.04 1542.14,58.47 1551.95,54.71 1561.76,50.39 1571.57,46.62 1581.38,43.24 1591.19,38.54 1601,38.16 1610.81,35.72" fill="none" stroke="#EC6560" stroke-width="1.1"/>
<g fill="#EC6560"><circle cx="1306.7" cy="134.44" r="2.7"/><circle cx="1316.51" cy="133.12" r="2.7"/><circle cx="1326.32" cy="130.3" r="2.7"/><circle cx="1336.13" cy="125.98" r="2.7"/><circle cx="1345.94" cy="116.76" r="2.7"/><circle cx="1355.75" cy="108.68" r="2.7"/><circle cx="1365.56" cy="102.1" r="2.7"/><circle cx="1375.37" cy="95.52" r="2.7"/><circle cx="1385.18" cy="89.87" r="2.7"/><circle cx="1394.99" cy="86.68" r="2.7"/><circle cx="1404.8" cy="81.98" r="2.7"/><circle cx="1414.61" cy="80.85" r="2.7"/><circle cx="1424.42" cy="81.98" r="2.7"/><circle cx="1434.23" cy="82.73" r="2.7"/><circle cx="1444.04" cy="82.92" r="2.7"/><circle cx="1453.85" cy="82.73" r="2.7"/><circle cx="1463.66" cy="83.29" r="2.7"/><circle cx="1473.47" cy="79.91" r="2.7"/><circle cx="1483.28" cy="75.39" r="2.7"/><circle cx="1493.09" cy="72.95" r="2.7"/><circle cx="1502.9" cy="67.87" r="2.7"/><circle cx="1512.71" cy="65.05" r="2.7"/><circle cx="1522.52" cy="63.55" r="2.7"/><circle cx="1532.33" cy="62.04" r="2.7"/><circle cx="1542.14" cy="58.47" r="2.7"/><circle cx="1551.95" cy="54.71" r="2.7"/><circle cx="1561.76" cy="50.39" r="2.7"/><circle cx="1571.57" cy="46.62" r="2.7"/><circle cx="1581.38" cy="43.24" r="2.7"/><circle cx="1591.19" cy="38.54" r="2.7"/><circle cx="1601" cy="38.16" r="2.7"/><circle cx="1610.81" cy="35.72" r="2.7"/></g>
<polyline points="1306.7,138.76 1316.51,137.45 1326.32,134.06 1336.13,129.36 1345.94,120.9 1355.75,113 1365.56,107.17 1375.37,100.22 1385.18,94.58 1394.99,91.75 1404.8,87.05 1414.61,85.74 1424.42,87.05 1434.23,88.37 1444.04,88.56 1453.85,88.56 1463.66,88.93 1473.47,85.74 1483.28,81.41 1493.09,78.97 1502.9,74.27 1512.71,71.07 1522.52,70.13 1532.33,68.81 1542.14,65.05 1551.95,61.67 1561.76,57.53 1571.57,53.77 1581.38,50.39 1591.19,45.68 1601,45.68 1610.81,43.24" fill="none" stroke="#CE68BE" stroke-width="1.1"/>
<g fill="#CE68BE"><circle cx="1306.7" cy="138.76" r="2.7"/><circle cx="1316.51" cy="137.45" r="2.7"/><circle cx="1326.32" cy="134.06" r="2.7"/><circle cx="1336.13" cy="129.36" r="2.7"/><circle cx="1345.94" cy="120.9" r="2.7"/><circle cx="1355.75" cy="113" r="2.7"/><circle cx="1365.56" cy="107.17" r="2.7"/><circle cx="1375.37" cy="100.22" r="2.7"/><circle cx="1385.18" cy="94.58" r="2.7"/><circle cx="1394.99" cy="91.75" r="2.7"/><circle cx="1404.8" cy="87.05" r="2.7"/><circle cx="1414.61" cy="85.74" r="2.7"/><circle cx="1424.42" cy="87.05" r="2.7"/><circle cx="1434.23" cy="88.37" r="2.7"/><circle cx="1444.04" cy="88.56" r="2.7"/><circle cx="1453.85" cy="88.56" r="2.7"/><circle cx="1463.66" cy="88.93" r="2.7"/><circle cx="1473.47" cy="85.74" r="2.7"/><circle cx="1483.28" cy="81.41" r="2.7"/><circle cx="1493.09" cy="78.97" r="2.7"/><circle cx="1502.9" cy="74.27" r="2.7"/><circle cx="1512.71" cy="71.07" r="2.7"/><circle cx="1522.52" cy="70.13" r="2.7"/><circle cx="1532.33" cy="68.81" r="2.7"/><circle cx="1542.14" cy="65.05" r="2.7"/><circle cx="1551.95" cy="61.67" r="2.7"/><circle cx="1561.76" cy="57.53" r="2.7"/><circle cx="1571.57" cy="53.77" r="2.7"/><circle cx="1581.38" cy="50.39" r="2.7"/><circle cx="1591.19" cy="45.68" r="2.7"/><circle cx="1601" cy="45.68" r="2.7"/><circle cx="1610.81" cy="43.24" r="2.7"/></g>
<rect x="1292.3" y="23.2" width="333.8" height="275.6" fill="none" stroke="#707070" stroke-width="1.1"/>
<path d="M1289 290.3H1292.3M1289 237.62H1292.3M1289 184.95H1292.3M1289 132.28H1292.3M1289 79.6H1292.3M1289 26.93H1292.3M1306.7 298.8V302.1M1404.8 298.8V302.1M1502.9 298.8V302.1M1601 298.8V302.1" stroke="#333" stroke-width="1.1" fill="none"/>
<text x="1286" y="295.8" text-anchor="end" font-family="'Liberation Serif', 'Times New Roman', serif" font-size="16.3" fill="#1a1a1a">0</text>
<text x="1286" y="243.12" text-anchor="end" font-family="'Liberation Serif', 'Times New Roman', serif" font-size="16.3" fill="#1a1a1a">5</text>
<text x="1286" y="190.45" text-anchor="end" font-family="'Liberation Serif', 'Times New Roman', serif" font-size="16.3" fill="#1a1a1a">10</text>
<text x="1286" y="137.78" text-anchor="end" font-family="'Liberation Serif', 'Times New Roman', serif" font-size="16.3" fill="#1a1a1a">15</text>
<text x="1286" y="85.1" text-anchor="end" font-family="'Liberation Serif', 'Times New Roman', serif" font-size="16.3" fill="#1a1a1a">20</text>
<text x="1286" y="32.43" text-anchor="end" font-family="'Liberation Serif', 'Times New Roman', serif" font-size="16.3" fill="#1a1a1a">25</text>
<text x="1306.7" y="316.4" text-anchor="middle" font-family="'Liberation Serif', 'Times New Roman', serif" font-size="16.3" fill="#1a1a1a">1990</text>
<text x="1404.8" y="316.4" text-anchor="middle" font-family="'Liberation Serif', 'Times New Roman', serif" font-size="16.3" fill="#1a1a1a">2000</text>
<text x="1502.9" y="316.4" text-anchor="middle" font-family="'Liberation Serif', 'Times New Roman', serif" font-size="16.3" fill="#1a1a1a">2010</text>
<text x="1601" y="316.4" text-anchor="middle" font-family="'Liberation Serif', 'Times New Roman', serif" font-size="16.3" fill="#1a1a1a">2020</text>
<text x="1459.2" y="330" text-anchor="middle" font-family="'Liberation Serif', 'Times New Roman', serif" font-size="10.7" fill="#1a1a1a">year</text>
<text transform="translate(1264,161.2) rotate(-90)" text-anchor="middle" font-family="'Liberation Serif', 'Times New Roman', serif" font-size="10.7" fill="#1a1a1a">Age-standardized Rate (per 100,000)</text>
<text x="1646" y="101.1" font-family="'Liberation Serif', 'Times New Roman', serif" font-size="10.5" fill="#1a1a1a">measure</text>
<path d="M1647.7 118.3H1664.5" stroke="#EC6560" stroke-width="1.1"/>
<circle cx="1655.9" cy="118.3" r="2.4" fill="#EC6560"/>
<text x="1673.2" y="124.1" font-family="'Liberation Serif', 'Times New Roman', serif" font-size="16.3" fill="#1a1a1a">ASDR</text>
<path d="M1647.7 138.67H1664.5" stroke="#B39C0C" stroke-width="1.1"/>
<circle cx="1655.9" cy="138.67" r="2.4" fill="#B39C0C"/>
<text x="1673.2" y="144.47" font-family="'Liberation Serif', 'Times New Roman', serif" font-size="16.3" fill="#1a1a1a">ASIR</text>
<path d="M1647.7 159.04H1664.5" stroke="#12B040" stroke-width="1.1"/>
<circle cx="1655.9" cy="159.04" r="2.4" fill="#12B040"/>
<text x="1673.2" y="164.84" font-family="'Liberation Serif', 'Times New Roman', serif" font-size="16.3" fill="#1a1a1a">ASMR</text>
<path d="M1647.7 179.41H1664.5" stroke="#10B8BA" stroke-width="1.1"/>
<circle cx="1655.9" cy="179.41" r="2.4" fill="#10B8BA"/>
<text x="1673.2" y="185.21" font-family="'Liberation Serif', 'Times New Roman', serif" font-size="16.3" fill="#1a1a1a">ASPR</text>
<path d="M1647.7 199.78H1664.5" stroke="#6496EE" stroke-width="1.1"/>
<circle cx="1655.9" cy="199.78" r="2.4" fill="#6496EE"/>
<text x="1673.2" y="205.58" font-family="'Liberation Serif', 'Times New Roman', serif" font-size="16.3" fill="#1a1a1a">YLDs Rate</text>
<path d="M1647.7 220.15H1664.5" stroke="#CE68BE" stroke-width="1.1"/>
<circle cx="1655.9" cy="220.15" r="2.4" fill="#CE68BE"/>
<text x="1673.2" y="225.95" font-family="'Liberation Serif', 'Times New Roman', serif" font-size="16.3" fill="#1a1a1a">YLLs Rate</text>
<text transform="translate(9.4,426.6) scale(0.95,1)" font-family="'Liberation Serif', 'Times New Roman', serif" font-weight="bold" font-size="28.6" fill="#111">B</text>
<text x="885.8" y="426.3" text-anchor="middle" font-family="'Liberation Sans', Arial, Helvetica, sans-serif" font-size="12.65" fill="#1a1a1a">Estimated Annual Percentage Change (EAPC) in Incidence by Region and Gender</text>
<rect x="73.6" y="433" width="1623.8" height="506.7" fill="#EBEBEB"/>
<path d="M73.6 875H1697.4M73.6 735.4H1697.4M73.6 595.8H1697.4M73.6 456.2H1697.4" stroke="#fff" stroke-width="0.6" fill="none"/>
<path d="M73.6 805.2H1697.4M73.6 665.6H1697.4M73.6 526H1697.4M261.5 433V939.7M573.7 433V939.7M885.9 433V939.7M1198.1 433V939.7M1510.3 433V939.7" stroke="#fff" stroke-width="1.2" fill="none"/>
<rect x="120.95" y="773.09" width="93.7" height="32.11" fill="#00FF00"/>
<rect x="214.65" y="755.92" width="93.7" height="49.28" fill="#0000FF"/>
<rect x="308.35" y="791.24" width="93.7" height="13.96" fill="#FF0384"/>
<rect x="433.15" y="695.33" width="93.7" height="109.87" fill="#00FF00"/>
<rect x="526.85" y="675.23" width="93.7" height="129.97" fill="#0000FF"/>
<rect x="620.55" y="716.9" width="93.7" height="88.3" fill="#FF0384"/>
<rect x="745.35" y="742.38" width="93.7" height="62.82" fill="#00FF00"/>
<rect x="839.05" y="733.03" width="93.7" height="72.17" fill="#0000FF"/>
<rect x="932.75" y="754.94" width="93.7" height="50.26" fill="#FF0384"/>
<rect x="1057.55" y="706.29" width="93.7" height="98.91" fill="#00FF00"/>
<rect x="1151.25" y="716.9" width="93.7" height="88.3" fill="#0000FF"/>
<rect x="1244.95" y="696.31" width="93.7" height="108.89" fill="#FF0384"/>
<rect x="1369.75" y="805.2" width="93.7" height="11.66" fill="#00FF00"/>
<rect x="1463.45" y="805.2" width="93.7" height="1" fill="#0000FF"/>
<rect x="1557.15" y="805.2" width="93.7" height="23.03" fill="#FF0384"/>
<path d="M157.8 752.15H177.8M157.8 793.61H177.8M167.8 752.15V793.61" stroke="#F9BCC5" stroke-width="1.1" fill="none"/>
<path d="M251.5 748.66H271.5M251.5 763.32H271.5M261.5 748.66V763.32" stroke="#F9BCC5" stroke-width="1.1" fill="none"/>
<path d="M345.2 782.17H365.2M345.2 800.31H365.2M355.2 782.17V800.31" stroke="#F9BCC5" stroke-width="1.1" fill="none"/>
<path d="M470 673.28H490M470 717.46H490M480 673.28V717.46" stroke="#F9BCC5" stroke-width="1.1" fill="none"/>
<path d="M563.7 665.6H583.7M563.7 684.45H583.7M573.7 665.6V684.45" stroke="#F9BCC5" stroke-width="1.1" fill="none"/>
<path d="M657.4 705.39H677.4M657.4 728.42H677.4M667.4 705.39V728.42" stroke="#F9BCC5" stroke-width="1.1" fill="none"/>
<path d="M782.2 714.46H802.2M782.2 769.95H802.2M792.2 714.46V769.95" stroke="#F9BCC5" stroke-width="1.1" fill="none"/>
<path d="M875.9 721.44H895.9M875.9 744.47H895.9M885.9 721.44V744.47" stroke="#F9BCC5" stroke-width="1.1" fill="none"/>
<path d="M969.6 743.78H989.6M969.6 766.11H989.6M979.6 743.78V766.11" stroke="#F9BCC5" stroke-width="1.1" fill="none"/>
<path d="M1094.4 701.9H1114.4M1094.4 710.27H1114.4M1104.4 701.9V710.27" stroke="#F9BCC5" stroke-width="1.1" fill="none"/>
<path d="M1188.1 715.16H1208.1M1188.1 719H1208.1M1198.1 715.16V719" stroke="#F9BCC5" stroke-width="1.1" fill="none"/>
<path d="M1281.8 692.12H1301.8M1281.8 700.5H1301.8M1291.8 692.12V700.5" stroke="#F9BCC5" stroke-width="1.1" fill="none"/>
<path d="M1406.6 793.33H1426.6M1406.6 840.1H1426.6M1416.6 793.33V840.1" stroke="#F9BCC5" stroke-width="1.1" fill="none"/>
<path d="M1500.3 801.01H1520.3M1500.3 812.18H1520.3M1510.3 801.01V812.18" stroke="#F9BCC5" stroke-width="1.1" fill="none"/>
<path d="M1594 819.16H1614M1594 837.31H1614M1604 819.16V837.31" stroke="#F9BCC5" stroke-width="1.1" fill="none"/>
<path d="M71.4 805.2H73.6M71.4 665.6H73.6M71.4 526H73.6M261.5 939.7V941.9M573.7 939.7V941.9M885.9 939.7V941.9M1198.1 939.7V941.9M1510.3 939.7V941.9" stroke="#333" stroke-width="0.9" fill="none"/>
<text x="70" y="807.6" text-anchor="end" font-family="'Liberation Sans', Arial, Helvetica, sans-serif" font-size="6.9" fill="#4D4D4D">0</text>
<text x="70" y="668" text-anchor="end" font-family="'Liberation Sans', Arial, Helvetica, sans-serif" font-size="6.9" fill="#4D4D4D">2</text>
<text x="70" y="528.4" text-anchor="end" font-family="'Liberation Sans', Arial, Helvetica, sans-serif" font-size="6.9" fill="#4D4D4D">4</text>
<text transform="translate(264.3,947.3) rotate(-45)" text-anchor="end" font-family="'Liberation Sans', Arial, Helvetica, sans-serif" font-size="6.9" fill="#4D4D4D">Global</text>
<text transform="translate(576.5,947.3) rotate(-45)" text-anchor="end" font-family="'Liberation Sans', Arial, Helvetica, sans-serif" font-size="6.9" fill="#4D4D4D">Asia</text>
<text transform="translate(888.7,947.3) rotate(-45)" text-anchor="end" font-family="'Liberation Sans', Arial, Helvetica, sans-serif" font-size="6.9" fill="#4D4D4D">Europe</text>
<text transform="translate(1200.9,947.3) rotate(-45)" text-anchor="end" font-family="'Liberation Sans', Arial, Helvetica, sans-serif" font-size="6.9" fill="#4D4D4D">Africa</text>
<text transform="translate(1513.1,947.3) rotate(-45)" text-anchor="end" font-family="'Liberation Sans', Arial, Helvetica, sans-serif" font-size="6.9" fill="#4D4D4D">America</text>
<text x="885.5" y="976" text-anchor="middle" font-family="'Liberation Sans', Arial, Helvetica, sans-serif" font-size="9.4" fill="#1a1a1a">Region</text>
<text transform="translate(62.6,686.2) rotate(-90)" text-anchor="middle" font-family="'Liberation Sans', Arial, Helvetica, sans-serif" font-size="9.3" fill="#1a1a1a">EAPC</text>
<text x="1710.8" y="667" font-family="'Liberation Sans', Arial, Helvetica, sans-serif" font-size="8.4" fill="#1a1a1a">sex</text>
<rect x="1711.2" y="672.7" width="12.8" height="12.4" fill="#00FF00"/>
<text x="1728.4" y="681.5" font-family="'Liberation Sans', Arial, Helvetica, sans-serif" font-size="6.95" fill="#1a1a1a">Both</text>
<rect x="1711.2" y="686.55" width="12.8" height="12.4" fill="#0000FF"/>
<text x="1728.4" y="695.35" font-family="'Liberation Sans', Arial, Helvetica, sans-serif" font-size="6.95" fill="#1a1a1a">Male</text>
<rect x="1711.2" y="700.4" width="12.8" height="12.4" fill="#FF0384"/>
<text x="1728.4" y="709.2" font-family="'Liberation Sans', Arial, Helvetica, sans-serif" font-size="6.95" fill="#1a1a1a">Female</text>
<text transform="translate(1.3,1025.2) scale(1,1.075)" font-family="'Liberation Serif', 'Times New Roman', serif" font-weight="bold" font-size="30" fill="#111">C</text>
<rect x="111.8" y="1013.1" width="1518.6" height="381.5" fill="#EBEBEB"/>
<path d="M111.8 1332.8H1630.4M111.8 1242.8H1630.4M111.8 1152.8H1630.4M111.8 1062.8H1630.4M414 1013.1V1394.6M849 1013.1V1394.6M1284 1013.1V1394.6" stroke="#F5F5F5" stroke-width="0.7" fill="none"/>
<path d="M111.8 1377.8H1630.4M111.8 1287.8H1630.4M111.8 1197.8H1630.4M111.8 1107.8H1630.4M111.8 1017.8H1630.4M196.5 1013.1V1394.6M631.5 1013.1V1394.6M1066.5 1013.1V1394.6M1501.5 1013.1V1394.6" stroke="#fff" stroke-width="1.3" fill="none"/>
<rect x="180.19" y="1336.1" width="15.22" height="41.7" fill="#FFA800"/><rect x="197.59" y="1328.5" width="15.22" height="49.3" fill="#1740B0"/><rect x="223.69" y="1335.5" width="15.22" height="42.3" fill="#FFA800"/><rect x="241.09" y="1327" width="15.22" height="50.8" fill="#1740B0"/><rect x="267.19" y="1334.2" width="15.22" height="43.6" fill="#FFA800"/><rect x="284.59" y="1325.8" width="15.22" height="52" fill="#1740B0"/><rect x="310.69" y="1330.5" width="15.22" height="47.3" fill="#FFA800"/><rect x="328.09" y="1321.9" width="15.22" height="55.9" fill="#1740B0"/><rect x="354.19" y="1325.4" width="15.22" height="52.4" fill="#FFA800"/><rect x="371.59" y="1316.8" width="15.22" height="61" fill="#1740B0"/><rect x="397.69" y="1321.7" width="15.22" height="56.1" fill="#FFA800"/><rect x="415.09" y="1311.8" width="15.22" height="66" fill="#1740B0"/><rect x="441.19" y="1318.2" width="15.22" height="59.6" fill="#FFA800"/><rect x="458.59" y="1306.9" width="15.22" height="70.9" fill="#1740B0"/><rect x="484.69" y="1314.7" width="15.22" height="63.1" fill="#FFA800"/><rect x="502.09" y="1300.8" width="15.22" height="77" fill="#1740B0"/><rect x="528.19" y="1311.8" width="15.22" height="66" fill="#FFA800"/><rect x="545.59" y="1295.8" width="15.22" height="82" fill="#1740B0"/><rect x="571.69" y="1306.7" width="15.22" height="71.1" fill="#FFA800"/><rect x="589.09" y="1291.1" width="15.22" height="86.7" fill="#1740B0"/><rect x="615.19" y="1302.6" width="15.22" height="75.2" fill="#FFA800"/><rect x="632.59" y="1285.7" width="15.22" height="92.1" fill="#1740B0"/><rect x="658.69" y="1299.9" width="15.22" height="77.9" fill="#FFA800"/><rect x="676.09" y="1281.6" width="15.22" height="96.2" fill="#1740B0"/><rect x="702.19" y="1297.4" width="15.22" height="80.4" fill="#FFA800"/><rect x="719.59" y="1277.5" width="15.22" height="100.3" fill="#1740B0"/><rect x="745.69" y="1293.3" width="15.22" height="84.5" fill="#FFA800"/><rect x="763.09" y="1273.2" width="15.22" height="104.6" fill="#1740B0"/><rect x="789.19" y="1288.6" width="15.22" height="89.2" fill="#FFA800"/><rect x="806.59" y="1267.1" width="15.22" height="110.7" fill="#1740B0"/><rect x="832.69" y="1282.1" width="15.22" height="95.7" fill="#FFA800"/><rect x="850.09" y="1259.9" width="15.22" height="117.9" fill="#1740B0"/><rect x="876.19" y="1275.2" width="15.22" height="102.6" fill="#FFA800"/><rect x="893.59" y="1252.8" width="15.22" height="125" fill="#1740B0"/><rect x="919.69" y="1268.2" width="15.22" height="109.6" fill="#FFA800"/><rect x="937.09" y="1243.6" width="15.22" height="134.2" fill="#1740B0"/><rect x="963.19" y="1261.6" width="15.22" height="116.2" fill="#FFA800"/><rect x="980.59" y="1233.7" width="15.22" height="144.1" fill="#1740B0"/><rect x="1006.69" y="1255.9" width="15.22" height="121.9" fill="#FFA800"/><rect x="1024.09" y="1225.1" width="15.22" height="152.7" fill="#1740B0"/><rect x="1050.19" y="1248.1" width="15.22" height="129.7" fill="#FFA800"/><rect x="1067.59" y="1214.9" width="15.22" height="162.9" fill="#1740B0"/><rect x="1093.69" y="1243.6" width="15.22" height="134.2" fill="#FFA800"/><rect x="1111.09" y="1206.5" width="15.22" height="171.3" fill="#1740B0"/><rect x="1137.19" y="1238.7" width="15.22" height="139.1" fill="#FFA800"/><rect x="1154.59" y="1197.8" width="15.22" height="180" fill="#1740B0"/><rect x="1180.69" y="1231.9" width="15.22" height="145.9" fill="#FFA800"/><rect x="1198.09" y="1188.1" width="15.22" height="189.7" fill="#1740B0"/><rect x="1224.19" y="1225.1" width="15.22" height="152.7" fill="#FFA800"/><rect x="1241.59" y="1176.4" width="15.22" height="201.4" fill="#1740B0"/><rect x="1267.69" y="1217.4" width="15.22" height="160.4" fill="#FFA800"/><rect x="1285.09" y="1165.9" width="15.22" height="211.9" fill="#1740B0"/><rect x="1311.19" y="1210.3" width="15.22" height="167.5" fill="#FFA800"/><rect x="1328.59" y="1154.9" width="15.22" height="222.9" fill="#1740B0"/><rect x="1354.69" y="1204.2" width="15.22" height="173.6" fill="#FFA800"/><rect x="1372.09" y="1142.2" width="15.22" height="235.6" fill="#1740B0"/><rect x="1398.19" y="1196.6" width="15.22" height="181.2" fill="#FFA800"/><rect x="1415.59" y="1130.3" width="15.22" height="247.5" fill="#1740B0"/><rect x="1441.69" y="1188.9" width="15.22" height="188.9" fill="#FFA800"/><rect x="1459.09" y="1115" width="15.22" height="262.8" fill="#1740B0"/><rect x="1485.19" y="1184.6" width="15.22" height="193.2" fill="#FFA800"/><rect x="1502.59" y="1105.9" width="15.22" height="271.9" fill="#1740B0"/><rect x="1528.69" y="1176.8" width="15.22" height="201" fill="#FFA800"/><rect x="1546.09" y="1093.4" width="15.22" height="284.4" fill="#1740B0"/>
<polygon points="196.5,1327.9 207.38,1327.56 218.25,1327.22 229.12,1326.88 240,1326.54 250.88,1326.2 261.75,1325.86 272.62,1325.52 283.5,1325.18 294.38,1324.84 305.25,1324.5 316.12,1324.16 327,1323.82 337.88,1323.48 348.75,1323.14 359.62,1322.8 370.5,1322.46 381.38,1322.12 392.25,1321.78 403.12,1321.43 414,1321.09 424.88,1320.75 435.75,1320.41 446.62,1320.07 457.5,1319.73 468.38,1319.39 479.25,1319.05 490.12,1318.71 501,1318.37 511.88,1318.06 522.75,1317.85 533.62,1317.63 544.5,1317.42 555.38,1317.21 566.25,1316.99 577.12,1316.78 588,1316.57 598.88,1316.36 609.75,1316.14 620.62,1315.93 631.5,1315.72 642.38,1315.51 653.25,1315.3 664.12,1315.08 675,1314.87 685.88,1314.66 696.75,1314.44 707.62,1314.23 718.5,1314.02 729.38,1313.81 740.25,1313.6 751.12,1313.38 762,1313.17 772.88,1312.86 783.75,1312.13 794.62,1311.4 805.5,1310.68 816.38,1309.93 827.25,1309.07 838.12,1308.2 849,1307.34 859.88,1306.48 870.75,1305.62 881.62,1304.75 892.5,1303.89 903.38,1303.11 914.25,1302.68 925.12,1302.25 936,1301.81 946.88,1301.33 957.75,1300.72 968.62,1300.1 979.5,1299.49 990.38,1298.91 1001.25,1298.48 1012.12,1298.05 1023,1297.61 1033.88,1297.18 1044.75,1296.74 1055.62,1296.29 1066.5,1295.85 1077.38,1295.48 1088.25,1295.41 1099.12,1295.33 1110,1295.26 1120.88,1295.15 1131.75,1294.95 1142.62,1294.76 1153.5,1294.56 1164.38,1294.27 1175.25,1293.62 1186.12,1292.97 1197,1292.32 1207.88,1291.71 1218.75,1291.29 1229.62,1290.87 1240.5,1290.44 1251.38,1290.06 1262.25,1289.83 1273.12,1289.61 1284,1289.38 1294.88,1289.16 1305.75,1288.96 1316.62,1288.76 1327.5,1288.56 1338.38,1288.36 1349.25,1288.15 1360.12,1287.95 1371,1287.75 1381.88,1287.54 1392.75,1287.16 1403.62,1286.73 1414.5,1286.31 1425.38,1285.88 1436.25,1285.42 1447.12,1284.95 1458,1284.48 1468.88,1284.04 1479.75,1283.74 1490.62,1283.44 1501.5,1283.14 1512.38,1282.88 1523.25,1282.75 1534.12,1282.62 1545,1282.5 1545,1322.8 1534.12,1322.82 1523.25,1322.85 1512.38,1322.87 1501.5,1322.89 1490.62,1322.92 1479.75,1322.94 1468.88,1322.96 1458,1322.99 1447.12,1323.01 1436.25,1323.03 1425.38,1323.05 1414.5,1323.08 1403.62,1323.1 1392.75,1323.12 1381.88,1323.15 1371,1323.17 1360.12,1323.19 1349.25,1323.22 1338.38,1323.24 1327.5,1323.26 1316.62,1323.29 1305.75,1323.31 1294.88,1323.33 1284,1323.36 1273.12,1323.38 1262.25,1323.4 1251.38,1323.42 1240.5,1323.45 1229.62,1323.47 1218.75,1323.49 1207.88,1323.52 1197,1323.54 1186.12,1323.56 1175.25,1323.59 1164.38,1323.61 1153.5,1323.63 1142.62,1323.66 1131.75,1323.68 1120.88,1323.7 1110,1323.73 1099.12,1323.75 1088.25,1323.77 1077.38,1323.8 1066.5,1323.86 1055.62,1323.93 1044.75,1324 1033.88,1324.07 1023,1324.14 1012.12,1324.21 1001.25,1324.28 990.38,1324.35 979.5,1324.42 968.62,1324.49 957.75,1324.57 946.88,1324.64 936,1324.71 925.12,1324.78 914.25,1324.85 903.38,1324.92 892.5,1324.99 881.62,1325.06 870.75,1325.13 859.88,1325.2 849,1325.27 838.12,1325.34 827.25,1325.41 816.38,1325.49 805.5,1325.79 794.62,1326.15 783.75,1326.5 772.88,1326.86 762,1327.22 751.12,1327.58 740.25,1327.94 729.38,1328.3 718.5,1328.66 707.62,1329.02 696.75,1329.38 685.88,1329.73 675,1330.09 664.12,1330.45 653.25,1330.81 642.38,1331.17 631.5,1331.53 620.62,1331.89 609.75,1332.25 598.88,1332.61 588,1332.96 577.12,1333.32 566.25,1333.68 555.38,1334.04 544.5,1334.4 533.62,1334.64 522.75,1334.89 511.88,1335.13 501,1335.38 490.12,1335.62 479.25,1335.86 468.38,1336.11 457.5,1336.35 446.62,1336.59 435.75,1336.84 424.88,1337.08 414,1337.33 403.12,1337.57 392.25,1337.81 381.38,1338.06 370.5,1338.3 359.62,1338.54 348.75,1338.79 337.88,1339.03 327,1339.28 316.12,1339.52 305.25,1339.76 294.38,1340.01 283.5,1340.25 272.62,1340.49 261.75,1340.74 250.88,1340.98 240,1341.23 229.12,1341.47 218.25,1341.71 207.38,1341.96 196.5,1342.2" fill="#FFA500" fill-opacity="0.2"/>
<polygon points="196.5,1315 207.38,1314.78 218.25,1314.55 229.12,1314.33 240,1314.11 250.88,1313.88 261.75,1313.66 272.62,1313.43 283.5,1313.21 294.38,1312.99 305.25,1312.76 316.12,1312.54 327,1312.32 337.88,1312.09 348.75,1311.87 359.62,1311.64 370.5,1310.98 381.38,1310.21 392.25,1309.44 403.12,1308.67 414,1307.9 424.88,1307.13 435.75,1306.36 446.62,1305.58 457.5,1304.81 468.38,1304.04 479.25,1303.27 490.12,1302.5 501,1302.1 511.88,1301.71 522.75,1301.31 533.62,1300.92 544.5,1300.52 555.38,1300.13 566.25,1299.73 577.12,1299.34 588,1298.94 598.88,1298.54 609.75,1298.15 620.62,1297.75 631.5,1297.36 642.38,1296.96 653.25,1296.57 664.12,1296.17 675,1295.78 685.88,1295.38 696.75,1294.99 707.62,1294.59 718.5,1294.19 729.38,1293.8 740.25,1293.4 751.12,1293.01 762,1292.61 772.88,1292.22 783.75,1291.82 794.62,1291.34 805.5,1290.75 816.38,1290.15 827.25,1289.56 838.12,1288.97 849,1288.37 859.88,1287.71 870.75,1286.76 881.62,1285.81 892.5,1284.86 903.38,1283.91 914.25,1282.96 925.12,1282.01 936,1281.06 946.88,1280.11 957.75,1279.16 968.62,1278.21 979.5,1277.26 990.38,1276.31 1001.25,1275.36 1012.12,1274.4 1023,1273.45 1033.88,1272.5 1044.75,1271.55 1055.62,1270.6 1066.5,1269.65 1077.38,1268.7 1088.25,1267.75 1099.12,1267.1 1110,1266.5 1120.88,1265.9 1131.75,1265.3 1142.62,1264.71 1153.5,1264.11 1164.38,1263.51 1175.25,1262.91 1186.12,1262.32 1197,1261.72 1207.88,1261.12 1218.75,1260.48 1229.62,1259.83 1240.5,1259.18 1251.38,1258.53 1262.25,1257.88 1273.12,1257.23 1284,1256.58 1294.88,1255.93 1305.75,1255.29 1316.62,1254.66 1327.5,1254.03 1338.38,1253.4 1349.25,1252.77 1360.12,1252.14 1371,1251.51 1381.88,1250.88 1392.75,1249.98 1403.62,1248.68 1414.5,1247.38 1425.38,1246.08 1436.25,1244.96 1447.12,1244.11 1458,1243.26 1468.88,1242.41 1479.75,1241.66 1490.62,1241.05 1501.5,1240.45 1512.38,1239.84 1523.25,1239.35 1534.12,1238.92 1545,1238.5 1545,1293.8 1534.12,1293.8 1523.25,1293.8 1512.38,1293.8 1501.5,1293.8 1490.62,1293.8 1479.75,1293.85 1468.88,1293.97 1458,1294.1 1447.12,1294.22 1436.25,1294.42 1425.38,1294.72 1414.5,1295.02 1403.62,1295.32 1392.75,1295.79 1381.88,1296.51 1371,1297.22 1360.12,1297.86 1349.25,1298.16 1338.38,1298.46 1327.5,1298.76 1316.62,1299.06 1305.75,1299.39 1294.88,1299.71 1284,1300.04 1273.12,1300.35 1262.25,1300.57 1251.38,1300.8 1240.5,1301.02 1229.62,1301.24 1218.75,1301.47 1207.88,1301.69 1197,1301.92 1186.12,1302.16 1175.25,1302.49 1164.38,1302.82 1153.5,1303.14 1142.62,1303.42 1131.75,1303.52 1120.88,1303.62 1110,1303.72 1099.12,1303.81 1088.25,1303.89 1077.38,1303.96 1066.5,1304.04 1055.62,1304.18 1044.75,1304.61 1033.88,1305.03 1023,1305.46 1012.12,1305.93 1001.25,1306.58 990.38,1307.23 979.5,1307.88 968.62,1308.48 957.75,1308.91 946.88,1309.33 936,1309.76 925.12,1310.18 914.25,1310.61 903.38,1311.03 892.5,1311.46 881.62,1311.88 870.75,1312.31 859.88,1312.73 849,1313.16 838.12,1313.59 827.25,1314.01 816.38,1314.43 805.5,1314.86 794.62,1315.23 783.75,1315.36 772.88,1315.5 762,1315.63 751.12,1315.77 740.25,1315.9 729.38,1316.04 718.5,1316.17 707.62,1316.3 696.75,1316.44 685.88,1316.57 675,1316.71 664.12,1316.84 653.25,1316.98 642.38,1317.11 631.5,1317.25 620.62,1317.38 609.75,1317.52 598.88,1317.65 588,1317.79 577.12,1317.92 566.25,1318.06 555.38,1318.19 544.5,1318.33 533.62,1318.46 522.75,1318.6 511.88,1318.73 501,1318.87 490.12,1319 479.25,1319.57 468.38,1320.15 457.5,1320.72 446.62,1321.3 435.75,1321.87 424.88,1322.44 414,1323.02 403.12,1323.59 392.25,1324.17 381.38,1324.74 370.5,1325.31 359.62,1325.89 348.75,1326.46 337.88,1327.04 327,1327.61 316.12,1328.19 305.25,1328.76 294.38,1329.33 283.5,1329.91 272.62,1330.48 261.75,1331.06 250.88,1331.63 240,1332.2 229.12,1332.78 218.25,1333.35 207.38,1333.93 196.5,1334.5" fill="#1740B0" fill-opacity="0.2"/>
<polyline points="196.5,1336.4 207.38,1336.29 218.25,1336.18 229.12,1336.06 240,1335.95 250.88,1335.84 261.75,1335.73 272.62,1335.62 283.5,1335.51 294.38,1335.39 305.25,1335.28 316.12,1335.17 327,1335.06 337.88,1334.95 348.75,1334.83 359.62,1334.72 370.5,1334.36 381.38,1333.95 392.25,1333.53 403.12,1333.11 414,1332.69 424.88,1332.27 435.75,1331.66 446.62,1330.93 457.5,1330.2 468.38,1329.46 479.25,1328.73 490.12,1328 501,1327.52 511.88,1327.03 522.75,1326.55 533.62,1326.06 544.5,1325.58 555.38,1325.1 566.25,1324.8 577.12,1324.55 588,1324.3 598.88,1324.05 609.75,1323.8 620.62,1323.55 631.5,1323.3 642.38,1323.09 653.25,1322.91 664.12,1322.73 675,1322.55 685.88,1322.37 696.75,1322.19 707.62,1322.01 718.5,1321.77 729.38,1321.44 740.25,1321.11 751.12,1320.78 762,1320.45 772.88,1320.12 783.75,1319.79 794.62,1319.4 805.5,1318.96 816.38,1318.51 827.25,1318.06 838.12,1317.62 849,1317.17 859.88,1316.72 870.75,1316.28 881.62,1315.83 892.5,1315.39 903.38,1314.95 914.25,1314.5 925.12,1314.06 936,1313.61 946.88,1313.17 957.75,1312.72 968.62,1312.22 979.5,1311.69 990.38,1311.16 1001.25,1310.63 1012.12,1310.1 1023,1309.76 1033.88,1309.43 1044.75,1309.09 1055.62,1308.76 1066.5,1308.42 1077.38,1308.09 1088.25,1307.75 1099.12,1307.65 1110,1307.58 1120.88,1307.52 1131.75,1307.46 1142.62,1307.39 1153.5,1307.33 1164.38,1307.26 1175.25,1307.2 1186.12,1306.98 1197,1306.77 1207.88,1306.55 1218.75,1306.34 1229.62,1306.12 1240.5,1305.91 1251.38,1305.69 1262.25,1305.48 1273.12,1305.3 1284,1305.12 1294.88,1304.94 1305.75,1304.76 1316.62,1304.59 1327.5,1304.41 1338.38,1304.23 1349.25,1304.06 1360.12,1303.94 1371,1303.81 1381.88,1303.68 1392.75,1303.56 1403.62,1303.44 1414.5,1303.33 1425.38,1303.22 1436.25,1303.11 1447.12,1303 1458,1302.89 1468.88,1302.78 1479.75,1302.67 1490.62,1302.56 1501.5,1302.44 1512.38,1302.33 1523.25,1302.22 1534.12,1302.11 1545,1302" fill="none" stroke="#FFA500" stroke-width="2.1"/>
<polyline points="196.5,1327.4 207.38,1327.16 218.25,1326.92 229.12,1326.68 240,1326.45 250.88,1326.21 261.75,1325.97 272.62,1325.73 283.5,1325.49 294.38,1325.22 305.25,1324.81 316.12,1324.41 327,1324 337.88,1323.59 348.75,1323.19 359.62,1322.78 370.5,1322.04 381.38,1321.22 392.25,1320.4 403.12,1319.57 414,1318.75 424.88,1317.93 435.75,1317.14 446.62,1316.37 457.5,1315.6 468.38,1314.84 479.25,1314.07 490.12,1313.3 501,1312.64 511.88,1311.98 522.75,1311.32 533.62,1310.65 544.5,1309.99 555.38,1309.33 566.25,1308.87 577.12,1308.45 588,1308.03 598.88,1307.62 609.75,1307.2 620.62,1306.78 631.5,1306.37 642.38,1306.05 653.25,1305.8 664.12,1305.55 675,1305.3 685.88,1305.05 696.75,1304.8 707.62,1304.55 718.5,1304.22 729.38,1303.78 740.25,1303.33 751.12,1302.89 762,1302.44 772.88,1301.99 783.75,1301.55 794.62,1301.03 805.5,1300.4 816.38,1299.78 827.25,1299.15 838.12,1298.53 849,1297.9 859.88,1297.27 870.75,1296.65 881.62,1296.01 892.5,1295.36 903.38,1294.72 914.25,1294.07 925.12,1293.42 936,1292.78 946.88,1292.13 957.75,1291.48 968.62,1290.78 979.5,1290.06 990.38,1289.34 1001.25,1288.62 1012.12,1287.9 1023,1287.3 1033.88,1286.7 1044.75,1286.1 1055.62,1285.5 1066.5,1284.9 1077.38,1284.3 1088.25,1283.7 1099.12,1283.19 1110,1282.71 1120.88,1282.22 1131.75,1281.74 1142.62,1281.25 1153.5,1280.77 1164.38,1280.28 1175.25,1279.8 1186.12,1279.27 1197,1278.73 1207.88,1278.2 1218.75,1277.67 1229.62,1277.14 1240.5,1276.6 1251.38,1276.07 1262.25,1275.53 1273.12,1274.93 1284,1274.33 1294.88,1273.73 1305.75,1273.13 1316.62,1272.53 1327.5,1271.93 1338.38,1271.33 1349.25,1270.74 1360.12,1270.17 1371,1269.61 1381.88,1269.04 1392.75,1268.41 1403.62,1267.69 1414.5,1266.98 1425.38,1266.26 1436.25,1265.54 1447.12,1264.82 1458,1264.1 1468.88,1263.97 1479.75,1263.85 1490.62,1263.72 1501.5,1263.6 1512.38,1263.07 1523.25,1262.55 1534.12,1262.03 1545,1261.5" fill="none" stroke="#1C45B0" stroke-width="2.1"/>
<path d="M187.8 1322.9V1342.2M185.1 1322.9H190.5M185.1 1342.2H190.5M185.1 1378.1H190.5M205.2 1315.1V1338.7M202.5 1315.1H207.9M202.5 1338.7H207.9M202.5 1378.1H207.9M231.3 1321.3V1340.8M228.6 1321.3H234M228.6 1340.8H234M228.6 1378.1H234M248.7 1312.7V1335.6M246 1312.7H251.4M246 1335.6H251.4M246 1378.1H251.4M274.8 1319.2V1339.3M272.1 1319.2H277.5M272.1 1339.3H277.5M272.1 1378.1H277.5M292.2 1308.6V1334M289.5 1308.6H294.9M289.5 1334H294.9M289.5 1378.1H294.9M318.3 1316.2V1336.7M315.6 1316.2H321M315.6 1336.7H321M315.6 1378.1H321M335.7 1305.9V1331.5M333 1305.9H338.4M333 1331.5H338.4M333 1378.1H338.4M361.8 1312V1334M359.1 1312H364.5M359.1 1334H364.5M359.1 1378.1H364.5M379.2 1301.8V1329.1M376.5 1301.8H381.9M376.5 1329.1H381.9M376.5 1378.1H381.9M405.3 1309.4V1331.1M402.6 1309.4H408M402.6 1331.1H408M402.6 1378.1H408M422.7 1297.3V1324.4M420 1297.3H425.4M420 1324.4H425.4M420 1378.1H425.4M448.8 1305.3V1327M446.1 1305.3H451.5M446.1 1327H451.5M446.1 1378.1H451.5M466.2 1294.2V1321.7M463.5 1294.2H468.9M463.5 1321.7H468.9M463.5 1378.1H468.9M492.3 1302.4V1324.4M489.6 1302.4H495M489.6 1324.4H495M489.6 1378.1H495M509.7 1288V1317.6M507 1288H512.4M507 1317.6H512.4M507 1378.1H512.4M535.8 1299.1V1323.1M533.1 1299.1H538.5M533.1 1323.1H538.5M533.1 1378.1H538.5M553.2 1283.7V1313.8M550.5 1283.7H555.9M550.5 1313.8H555.9M550.5 1378.1H555.9M579.3 1296.4V1321.4M576.6 1296.4H582M576.6 1321.4H582M576.6 1378.1H582M596.7 1278.6V1310.8M594 1278.6H599.4M594 1310.8H599.4M594 1378.1H599.4M622.8 1292.3V1318.6M620.1 1292.3H625.5M620.1 1318.6H625.5M620.1 1378.1H625.5M640.2 1273V1306.7M637.5 1273H642.9M637.5 1306.7H642.9M637.5 1378.1H642.9M666.3 1289.8V1316.3M663.6 1289.8H669M663.6 1316.3H669M663.6 1378.1H669M683.7 1267.7V1302.6M681 1267.7H686.4M681 1302.6H686.4M681 1378.1H686.4M709.8 1285.5V1312.8M707.1 1285.5H712.5M707.1 1312.8H712.5M707.1 1378.1H712.5M727.2 1263.6V1300.1M724.5 1263.6H729.9M724.5 1300.1H729.9M724.5 1378.1H729.9M753.3 1281V1309.1M750.6 1281H756M750.6 1309.1H756M750.6 1378.1H756M770.7 1258.9V1294.8M768 1258.9H773.4M768 1294.8H773.4M768 1378.1H773.4M796.8 1274.9V1304.2M794.1 1274.9H799.5M794.1 1304.2H799.5M794.1 1378.1H799.5M814.2 1249.4V1288.2M811.5 1249.4H816.9M811.5 1288.2H816.9M811.5 1378.1H816.9M840.3 1267.7V1299M837.6 1267.7H843M837.6 1299H843M837.6 1378.1H843M857.7 1238.8V1283.5M855 1238.8H860.4M855 1283.5H860.4M855 1378.1H860.4M883.8 1256.9V1293.2M881.1 1256.9H886.5M881.1 1293.2H886.5M881.1 1378.1H886.5M901.2 1230.3V1277.4M898.5 1230.3H903.9M898.5 1277.4H903.9M898.5 1378.1H903.9M927.3 1248.5V1288.7M924.6 1248.5H930M924.6 1288.7H930M924.6 1378.1H930M944.7 1219.4V1270.9M942 1219.4H947.4M942 1270.9H947.4M942 1378.1H947.4M970.8 1239.9V1283.6M968.1 1239.9H973.5M968.1 1283.6H973.5M968.1 1378.1H973.5M988.2 1209.3V1263.3M985.5 1209.3H990.9M985.5 1263.3H990.9M985.5 1378.1H990.9M1014.3 1232.9V1280.9M1011.6 1232.9H1017M1011.6 1280.9H1017M1011.6 1378.1H1017M1031.7 1199.3V1256.3M1029 1199.3H1034.4M1029 1256.3H1034.4M1029 1378.1H1034.4M1057.8 1223.1V1276M1055.1 1223.1H1060.5M1055.1 1276H1060.5M1055.1 1378.1H1060.5M1075.2 1186.4V1250.2M1072.5 1186.4H1077.9M1072.5 1250.2H1077.9M1072.5 1378.1H1077.9M1101.3 1218.6V1274M1098.6 1218.6H1104M1098.6 1274H1104M1098.6 1378.1H1104M1118.7 1176.9V1246.3M1116 1176.9H1121.4M1116 1246.3H1121.4M1116 1378.1H1121.4M1144.8 1212.2V1269.6M1142.1 1212.2H1147.5M1142.1 1269.6H1147.5M1142.1 1378.1H1147.5M1162.2 1165.6V1240.7M1159.5 1165.6H1164.9M1159.5 1240.7H1164.9M1159.5 1378.1H1164.9M1188.3 1201.1V1266.6M1185.6 1201.1H1191M1185.6 1266.6H1191M1185.6 1378.1H1191M1205.7 1150.2V1235.1M1203 1150.2H1208.4M1203 1235.1H1208.4M1203 1378.1H1208.4M1231.8 1190.9V1258.6M1229.1 1190.9H1234.5M1229.1 1258.6H1234.5M1229.1 1378.1H1234.5M1249.2 1138.5V1227.4M1246.5 1138.5H1251.9M1246.5 1227.4H1251.9M1246.5 1378.1H1251.9M1275.3 1183.6V1257.5M1272.6 1183.6H1278M1272.6 1257.5H1278M1272.6 1378.1H1278M1292.7 1131.2V1222.2M1290 1131.2H1295.4M1290 1222.2H1295.4M1290 1378.1H1295.4M1318.8 1174.1V1253.6M1316.1 1174.1H1321.5M1316.1 1253.6H1321.5M1316.1 1378.1H1321.5M1336.2 1112.5V1212.6M1333.5 1112.5H1338.9M1333.5 1212.6H1338.9M1333.5 1378.1H1338.9M1362.3 1166.8V1250.9M1359.6 1166.8H1365M1359.6 1250.9H1365M1359.6 1378.1H1365M1379.7 1100.2V1207.3M1377 1100.2H1382.4M1377 1207.3H1382.4M1377 1378.1H1382.4M1405.8 1155.8V1246.3M1403.1 1155.8H1408.5M1403.1 1246.3H1408.5M1403.1 1378.1H1408.5M1423.2 1084.3V1195.5M1420.5 1084.3H1425.9M1420.5 1195.5H1425.9M1420.5 1378.1H1425.9M1449.3 1144.2V1241.8M1446.6 1144.2H1452M1446.6 1241.8H1452M1446.6 1378.1H1452M1466.7 1061V1184.1M1464 1061H1469.4M1464 1184.1H1469.4M1464 1378.1H1469.4M1492.8 1134V1240M1490.1 1134H1495.5M1490.1 1240H1495.5M1490.1 1378.1H1495.5M1510.2 1048.3V1181.1M1507.5 1048.3H1512.9M1507.5 1181.1H1512.9M1507.5 1378.1H1512.9M1536.3 1120.3V1234.7M1533.6 1120.3H1539M1533.6 1234.7H1539M1533.6 1378.1H1539M1553.7 1030.3V1173.4M1551 1030.3H1556.4M1551 1173.4H1556.4M1551 1378.1H1556.4" stroke="#111" stroke-width="1.3" fill="none"/>
<path d="M108.6 1377.8H111.8M1630.4 1377.8H1633.6M108.6 1287.8H111.8M1630.4 1287.8H1633.6M108.6 1197.8H111.8M1630.4 1197.8H1633.6M108.6 1107.8H111.8M1630.4 1107.8H1633.6M108.6 1017.8H111.8M1630.4 1017.8H1633.6M196.5 1394.6V1397.8M631.5 1394.6V1397.8M1066.5 1394.6V1397.8M1501.5 1394.6V1397.8" stroke="#333" stroke-width="1" fill="none"/>
<text x="106.3" y="1381.2" text-anchor="end" font-family="'Liberation Sans', Arial, Helvetica, sans-serif" font-size="9.75" fill="#4D4D4D">0</text>
<text x="106.3" y="1291.2" text-anchor="end" font-family="'Liberation Sans', Arial, Helvetica, sans-serif" font-size="9.75" fill="#4D4D4D">25000</text>
<text x="106.3" y="1201.2" text-anchor="end" font-family="'Liberation Sans', Arial, Helvetica, sans-serif" font-size="9.75" fill="#4D4D4D">50000</text>
<text x="106.3" y="1111.2" text-anchor="end" font-family="'Liberation Sans', Arial, Helvetica, sans-serif" font-size="9.75" fill="#4D4D4D">75000</text>
<text x="106.3" y="1021.2" text-anchor="end" font-family="'Liberation Sans', Arial, Helvetica, sans-serif" font-size="9.75" fill="#4D4D4D">100000</text>
<text x="1635.7" y="1381.2" font-family="'Liberation Sans', Arial, Helvetica, sans-serif" font-size="9.75" fill="#4D4D4D">0.0</text>
<text x="1635.7" y="1291.2" font-family="'Liberation Sans', Arial, Helvetica, sans-serif" font-size="9.75" fill="#4D4D4D">2.5</text>
<text x="1635.7" y="1201.2" font-family="'Liberation Sans', Arial, Helvetica, sans-serif" font-size="9.75" fill="#4D4D4D">5.0</text>
<text x="1635.7" y="1111.2" font-family="'Liberation Sans', Arial, Helvetica, sans-serif" font-size="9.75" fill="#4D4D4D">7.5</text>
<text x="1635.7" y="1021.2" font-family="'Liberation Sans', Arial, Helvetica, sans-serif" font-size="9.75" fill="#4D4D4D">10.0</text>
<text x="196.5" y="1408.2" text-anchor="middle" font-family="'Liberation Sans', Arial, Helvetica, sans-serif" font-size="9.9" fill="#4D4D4D">1990</text>
<text x="631.5" y="1408.2" text-anchor="middle" font-family="'Liberation Sans', Arial, Helvetica, sans-serif" font-size="9.9" fill="#4D4D4D">2000</text>
<text x="1066.5" y="1408.2" text-anchor="middle" font-family="'Liberation Sans', Arial, Helvetica, sans-serif" font-size="9.9" fill="#4D4D4D">2010</text>
<text x="1501.5" y="1408.2" text-anchor="middle" font-family="'Liberation Sans', Arial, Helvetica, sans-serif" font-size="9.9" fill="#4D4D4D">2020</text>
<text x="870.8" y="1422.2" text-anchor="middle" font-family="'Liberation Sans', Arial, Helvetica, sans-serif" font-size="12.3" fill="#1a1a1a">Year</text>
<text transform="translate(66.9,1204.6) rotate(-90)" text-anchor="middle" font-family="'Liberation Sans', Arial, Helvetica, sans-serif" font-size="12.4" fill="#1a1a1a">Prevalence Number</text>
<text transform="translate(1661.2,1204.6) rotate(90)" text-anchor="middle" font-family="'Liberation Sans', Arial, Helvetica, sans-serif" font-size="12.4" fill="#1a1a1a">Age-standardized Prevalence rate per 100,000</text>
<text x="1689.3" y="1145" font-family="'Liberation Sans', Arial, Helvetica, sans-serif" font-size="12.1" fill="#1a1a1a">Number</text>
<rect x="1689.7" y="1153.1" width="18.2" height="17.9" fill="#FFA800"/>
<rect x="1689.7" y="1173" width="18.2" height="17.8" fill="#1740B0"/>
<text x="1714.9" y="1166.1" font-family="'Liberation Sans', Arial, Helvetica, sans-serif" font-size="9.75" fill="#1a1a1a">Female</text>
<text x="1714.9" y="1186" font-family="'Liberation Sans', Arial, Helvetica, sans-serif" font-size="9.75" fill="#1a1a1a">Male</text>
<text x="1689.3" y="1226.9" font-family="'Liberation Sans', Arial, Helvetica, sans-serif" font-size="12.1" fill="#1a1a1a">Rate</text>
<rect x="1689.0" y="1234.6" width="19" height="38.1" fill="#E6E6E8"/>
<path d="M1690.5 1244.4H1706.5" stroke="#FFA500" stroke-width="2.3"/>
<path d="M1690.5 1263.8H1706.5" stroke="#1C45B0" stroke-width="2.3"/>
<text x="1714.9" y="1247.6" font-family="'Liberation Sans', Arial, Helvetica, sans-serif" font-size="9.75" fill="#1a1a1a">Female</text>
<text x="1714.9" y="1267.1" font-family="'Liberation Sans', Arial, Helvetica, sans-serif" font-size="9.75" fill="#1a1a1a">Male</text>
<rect x="105.8" y="1437.6" width="1537.6" height="381.4" fill="#EBEBEB"/>
<path d="M105.8 1755.85H1643.4M105.8 1663.35H1643.4M105.8 1570.85H1643.4M105.8 1478.35H1643.4M412.4 1437.6V1819M852.8 1437.6V1819M1293.2 1437.6V1819" stroke="#F5F5F5" stroke-width="0.7" fill="none"/>
<path d="M105.8 1802.1H1643.4M105.8 1709.6H1643.4M105.8 1617.1H1643.4M105.8 1524.6H1643.4M192.2 1437.6V1819M632.6 1437.6V1819M1073 1437.6V1819M1513.4 1437.6V1819" stroke="#fff" stroke-width="1.3" fill="none"/>
<rect x="175.69" y="1752.2" width="15.41" height="49.9" fill="#FFA800"/><rect x="193.3" y="1742.2" width="15.41" height="59.9" fill="#1740B0"/><rect x="219.72" y="1749.7" width="15.41" height="52.4" fill="#FFA800"/><rect x="237.34" y="1740.1" width="15.41" height="62" fill="#1740B0"/><rect x="263.76" y="1748.1" width="15.41" height="54" fill="#FFA800"/><rect x="281.38" y="1736.8" width="15.41" height="65.3" fill="#1740B0"/><rect x="307.81" y="1744.6" width="15.41" height="57.5" fill="#FFA800"/><rect x="325.42" y="1732.7" width="15.41" height="69.4" fill="#1740B0"/><rect x="351.85" y="1738.5" width="15.41" height="63.6" fill="#FFA800"/><rect x="369.46" y="1727.8" width="15.41" height="74.3" fill="#1740B0"/><rect x="395.88" y="1734.4" width="15.41" height="67.7" fill="#FFA800"/><rect x="413.5" y="1721.2" width="15.41" height="80.9" fill="#1740B0"/><rect x="439.93" y="1729.8" width="15.41" height="72.3" fill="#FFA800"/><rect x="457.54" y="1715.5" width="15.41" height="86.6" fill="#1740B0"/><rect x="483.96" y="1725.7" width="15.41" height="76.4" fill="#FFA800"/><rect x="501.58" y="1709.7" width="15.41" height="92.4" fill="#1740B0"/><rect x="528" y="1721.5" width="15.41" height="80.6" fill="#FFA800"/><rect x="545.62" y="1704.1" width="15.41" height="98" fill="#1740B0"/><rect x="572.04" y="1717" width="15.41" height="85.1" fill="#FFA800"/><rect x="589.66" y="1699.4" width="15.41" height="102.7" fill="#1740B0"/><rect x="616.08" y="1713.7" width="15.41" height="88.4" fill="#FFA800"/><rect x="633.7" y="1693.2" width="15.41" height="108.9" fill="#1740B0"/><rect x="660.12" y="1711.9" width="15.41" height="90.2" fill="#FFA800"/><rect x="677.74" y="1688.9" width="15.41" height="113.2" fill="#1740B0"/><rect x="704.17" y="1711.7" width="15.41" height="90.4" fill="#FFA800"/><rect x="721.78" y="1685.6" width="15.41" height="116.5" fill="#1740B0"/><rect x="748.21" y="1706.2" width="15.41" height="95.9" fill="#FFA800"/><rect x="765.82" y="1681.7" width="15.41" height="120.4" fill="#1740B0"/><rect x="792.25" y="1702.5" width="15.41" height="99.6" fill="#FFA800"/><rect x="809.86" y="1676.8" width="15.41" height="125.3" fill="#1740B0"/><rect x="836.28" y="1698" width="15.41" height="104.1" fill="#FFA800"/><rect x="853.9" y="1671.8" width="15.41" height="130.3" fill="#1740B0"/><rect x="880.32" y="1692.8" width="15.41" height="109.3" fill="#FFA800"/><rect x="897.94" y="1666.6" width="15.41" height="135.5" fill="#1740B0"/><rect x="924.36" y="1687.1" width="15.41" height="115" fill="#FFA800"/><rect x="941.98" y="1658.6" width="15.41" height="143.5" fill="#1740B0"/><rect x="968.41" y="1682" width="15.41" height="120.1" fill="#FFA800"/><rect x="986.02" y="1649.7" width="15.41" height="152.4" fill="#1740B0"/><rect x="1012.45" y="1676.8" width="15.41" height="125.3" fill="#FFA800"/><rect x="1030.06" y="1642" width="15.41" height="160.1" fill="#1740B0"/><rect x="1056.48" y="1670.3" width="15.41" height="131.8" fill="#FFA800"/><rect x="1074.1" y="1632.3" width="15.41" height="169.8" fill="#1740B0"/><rect x="1100.52" y="1664.7" width="15.41" height="137.4" fill="#FFA800"/><rect x="1118.14" y="1624.1" width="15.41" height="178" fill="#1740B0"/><rect x="1144.56" y="1660" width="15.41" height="142.1" fill="#FFA800"/><rect x="1162.18" y="1616.3" width="15.41" height="185.8" fill="#1740B0"/><rect x="1188.6" y="1653.8" width="15.41" height="148.3" fill="#FFA800"/><rect x="1206.22" y="1608.1" width="15.41" height="194" fill="#1740B0"/><rect x="1232.64" y="1647.9" width="15.41" height="154.2" fill="#FFA800"/><rect x="1250.26" y="1597.3" width="15.41" height="204.8" fill="#1740B0"/><rect x="1276.68" y="1639.9" width="15.41" height="162.2" fill="#FFA800"/><rect x="1294.3" y="1587.5" width="15.41" height="214.6" fill="#1740B0"/><rect x="1320.72" y="1631.5" width="15.41" height="170.6" fill="#FFA800"/><rect x="1338.34" y="1576.1" width="15.41" height="226" fill="#1740B0"/><rect x="1364.76" y="1623.7" width="15.41" height="178.4" fill="#FFA800"/><rect x="1382.38" y="1564.2" width="15.41" height="237.9" fill="#1740B0"/><rect x="1408.8" y="1615.5" width="15.41" height="186.6" fill="#FFA800"/><rect x="1426.42" y="1552.4" width="15.41" height="249.7" fill="#1740B0"/><rect x="1452.85" y="1607.1" width="15.41" height="195" fill="#FFA800"/><rect x="1470.46" y="1538" width="15.41" height="264.1" fill="#1740B0"/><rect x="1496.88" y="1602.3" width="15.41" height="199.8" fill="#FFA800"/><rect x="1514.5" y="1529.3" width="15.41" height="272.8" fill="#1740B0"/><rect x="1540.92" y="1594.1" width="15.41" height="208" fill="#FFA800"/><rect x="1558.54" y="1517.7" width="15.41" height="284.4" fill="#1740B0"/>
<polygon points="192.2,1738 203.21,1737.59 214.22,1737.18 225.23,1736.77 236.24,1736.37 247.25,1735.96 258.26,1735.55 269.27,1735.14 280.28,1734.73 291.29,1734.32 302.3,1733.91 313.31,1733.51 324.32,1733.1 335.33,1732.69 346.34,1732.28 357.35,1731.87 368.36,1731.46 379.37,1731.05 390.38,1730.65 401.39,1730.24 412.4,1729.83 423.41,1729.42 434.42,1729.01 445.43,1728.6 456.44,1728.2 467.45,1727.79 478.46,1727.38 489.47,1726.97 500.48,1726.56 511.49,1726.15 522.5,1725.74 533.51,1725.34 544.52,1724.93 555.53,1724.56 566.54,1724.36 577.55,1724.15 588.56,1723.95 599.57,1723.75 610.58,1723.54 621.59,1723.34 632.6,1723.14 643.61,1722.93 654.62,1722.73 665.63,1722.53 676.64,1722.32 687.65,1722.12 698.66,1721.92 709.67,1721.71 720.68,1721.51 731.69,1721.31 742.7,1721.1 753.71,1720.9 764.72,1720.69 775.73,1720.49 786.74,1720.29 797.75,1720.08 808.76,1719.88 819.77,1719.56 830.78,1719.15 841.79,1718.75 852.8,1718.34 863.81,1717.94 874.82,1717.53 885.83,1717.13 896.84,1716.72 907.85,1716.32 918.86,1715.94 929.87,1715.55 940.88,1715.16 951.89,1714.77 962.9,1714.38 973.91,1714 984.92,1713.61 995.93,1713.27 1006.94,1713.11 1017.95,1712.95 1028.96,1712.79 1039.97,1712.64 1050.98,1712.48 1061.99,1712.32 1073,1712.16 1084.01,1711.99 1095.02,1711.81 1106.03,1711.63 1117.04,1711.45 1128.05,1711.23 1139.06,1710.9 1150.07,1710.57 1161.08,1710.24 1172.09,1709.91 1183.1,1709.58 1194.11,1709.24 1205.12,1708.91 1216.13,1708.58 1227.14,1708.25 1238.15,1707.92 1249.16,1707.59 1260.17,1707.25 1271.18,1706.92 1282.19,1706.59 1293.2,1706.26 1304.21,1705.93 1315.22,1705.6 1326.23,1705.26 1337.24,1704.93 1348.25,1704.63 1359.26,1704.36 1370.27,1704.08 1381.28,1703.81 1392.29,1703.53 1403.3,1703.26 1414.31,1702.98 1425.32,1702.71 1436.33,1702.39 1447.34,1702.04 1458.35,1701.69 1469.36,1701.34 1480.37,1700.99 1491.38,1700.64 1502.39,1700.29 1513.4,1699.94 1524.41,1699.67 1535.42,1699.44 1546.43,1699.22 1557.44,1699 1557.44,1746.9 1546.43,1746.9 1535.42,1746.9 1524.41,1746.9 1513.4,1746.9 1502.39,1746.9 1491.38,1746.9 1480.37,1746.9 1469.36,1746.9 1458.35,1746.9 1447.34,1746.9 1436.33,1746.9 1425.32,1746.9 1414.31,1746.9 1403.3,1746.9 1392.29,1746.9 1381.28,1746.9 1370.27,1746.9 1359.26,1746.9 1348.25,1746.9 1337.24,1746.9 1326.23,1746.9 1315.22,1746.9 1304.21,1746.9 1293.2,1746.9 1282.19,1746.9 1271.18,1746.9 1260.17,1746.9 1249.16,1746.9 1238.15,1746.9 1227.14,1746.9 1216.13,1746.9 1205.12,1746.9 1194.11,1746.9 1183.1,1746.9 1172.09,1746.9 1161.08,1746.9 1150.07,1746.9 1139.06,1746.9 1128.05,1746.9 1117.04,1746.94 1106.03,1747 1095.02,1747.05 1084.01,1747.11 1073,1747.16 1061.99,1747.21 1050.98,1747.27 1039.97,1747.32 1028.96,1747.38 1017.95,1747.43 1006.94,1747.49 995.93,1747.54 984.92,1747.59 973.91,1747.65 962.9,1747.7 951.89,1747.76 940.88,1747.81 929.87,1747.86 918.86,1747.92 907.85,1747.97 896.84,1748.03 885.83,1748.08 874.82,1748.13 863.81,1748.19 852.8,1748.26 841.79,1748.34 830.78,1748.41 819.77,1748.49 808.76,1748.56 797.75,1748.63 786.74,1748.71 775.73,1748.79 764.72,1748.86 753.71,1748.93 742.7,1749.01 731.69,1749.09 720.68,1749.16 709.67,1749.24 698.66,1749.31 687.65,1749.38 676.64,1749.46 665.63,1749.54 654.62,1749.61 643.61,1749.68 632.6,1749.76 621.59,1749.84 610.58,1749.91 599.57,1749.98 588.56,1750.06 577.55,1750.13 566.54,1750.21 555.53,1750.29 544.52,1750.49 533.51,1750.72 522.5,1750.96 511.49,1751.19 500.48,1751.43 489.47,1751.66 478.46,1751.9 467.45,1752.13 456.44,1752.37 445.43,1752.6 434.42,1752.84 423.41,1753.07 412.4,1753.3 401.39,1753.54 390.38,1753.77 379.37,1754.01 368.36,1754.24 357.35,1754.48 346.34,1754.71 335.33,1754.95 324.32,1755.18 313.31,1755.42 302.3,1755.65 291.29,1755.89 280.28,1756.12 269.27,1756.36 258.26,1756.59 247.25,1756.83 236.24,1757.06 225.23,1757.3 214.22,1757.53 203.21,1757.77 192.2,1758" fill="#FFA500" fill-opacity="0.2"/>
<polygon points="192.2,1715 203.21,1714.65 214.22,1714.31 225.23,1713.96 236.24,1713.62 247.25,1713.27 258.26,1712.93 269.27,1712.58 280.28,1712.24 291.29,1711.89 302.3,1711.55 313.31,1711.2 324.32,1710.86 335.33,1710.51 346.34,1710.02 357.35,1709.46 368.36,1708.91 379.37,1708.35 390.38,1707.79 401.39,1707.23 412.4,1706.68 423.41,1706.12 434.42,1705.56 445.43,1705.01 456.44,1704.45 467.45,1703.89 478.46,1703.33 489.47,1702.83 500.48,1702.41 511.49,1701.98 522.5,1701.56 533.51,1701.13 544.52,1700.71 555.53,1700.28 566.54,1699.86 577.55,1699.44 588.56,1699.01 599.57,1698.59 610.58,1698.16 621.59,1697.74 632.6,1697.36 643.61,1697.14 654.62,1696.91 665.63,1696.69 676.64,1696.47 687.65,1696.25 698.66,1696.03 709.67,1695.81 720.68,1695.59 731.69,1695.37 742.7,1695.15 753.71,1694.93 764.72,1694.71 775.73,1694.49 786.74,1694.23 797.75,1693.78 808.76,1693.34 819.77,1692.9 830.78,1692.45 841.79,1692.01 852.8,1691.56 863.81,1691.12 874.82,1690.67 885.83,1690.23 896.84,1689.78 907.85,1689.34 918.86,1688.89 929.87,1688.45 940.88,1688 951.89,1687.56 962.9,1686.97 973.91,1686.3 984.92,1685.63 995.93,1684.96 1006.94,1684.28 1017.95,1683.61 1028.96,1682.94 1039.97,1682.27 1050.98,1681.6 1061.99,1680.93 1073,1680.25 1084.01,1678.87 1095.02,1677.79 1106.03,1677.25 1117.04,1676.72 1128.05,1676.18 1139.06,1675.65 1150.07,1675.12 1161.08,1674.58 1172.09,1674.05 1183.1,1673.51 1194.11,1673.04 1205.12,1672.6 1216.13,1672.16 1227.14,1671.72 1238.15,1671.28 1249.16,1670.85 1260.17,1670.41 1271.18,1669.97 1282.19,1669.43 1293.2,1668.88 1304.21,1668.32 1315.22,1667.77 1326.23,1667.21 1337.24,1666.66 1348.25,1666.1 1359.26,1665.54 1370.27,1664.93 1381.28,1664.06 1392.29,1663.2 1403.3,1662.33 1414.31,1661.47 1425.32,1660.6 1436.33,1658.75 1447.34,1656.9 1458.35,1655.05 1469.36,1653.59 1480.37,1654.12 1491.38,1654.65 1502.39,1655.18 1513.4,1655.45 1524.41,1655.31 1535.42,1655.17 1546.43,1655.04 1557.44,1654.9 1557.44,1712.5 1546.43,1712.64 1535.42,1712.79 1524.41,1712.93 1513.4,1713.07 1502.39,1713.21 1491.38,1713.23 1480.37,1713.06 1469.36,1712.88 1458.35,1712.7 1447.34,1712.82 1436.33,1713.37 1425.32,1713.92 1414.31,1714.47 1403.3,1714.87 1392.29,1715.04 1381.28,1715.22 1370.27,1715.39 1359.26,1715.61 1348.25,1715.87 1337.24,1716.13 1326.23,1716.4 1315.22,1716.66 1304.21,1716.92 1293.2,1717.19 1282.19,1717.45 1271.18,1717.72 1260.17,1717.98 1249.16,1718.24 1238.15,1718.51 1227.14,1718.77 1216.13,1719.04 1205.12,1719.3 1194.11,1719.56 1183.1,1719.83 1172.09,1720.09 1161.08,1720.36 1150.07,1720.62 1139.06,1720.88 1128.05,1721.15 1117.04,1721.49 1106.03,1721.84 1095.02,1722.2 1084.01,1722.56 1073,1722.91 1061.99,1723.24 1050.98,1723.47 1039.97,1723.69 1028.96,1723.92 1017.95,1724.14 1006.94,1724.37 995.93,1724.6 984.92,1724.82 973.91,1725.12 962.9,1725.75 951.89,1726.38 940.88,1727 929.87,1727.53 918.86,1727.67 907.85,1727.81 896.84,1727.95 885.83,1728.1 874.82,1728.24 863.81,1728.38 852.8,1728.52 841.79,1728.66 830.78,1728.8 819.77,1728.94 808.76,1729.09 797.75,1729.19 786.74,1729.15 775.73,1729.12 764.72,1729.08 753.71,1729.04 742.7,1729 731.69,1729.04 720.68,1729.08 709.67,1729.12 698.66,1729.16 687.65,1729.2 676.64,1729.24 665.63,1729.28 654.62,1729.32 643.61,1729.36 632.6,1729.4 621.59,1729.44 610.58,1729.48 599.57,1729.52 588.56,1729.56 577.55,1729.6 566.54,1729.64 555.53,1729.68 544.52,1729.73 533.51,1729.77 522.5,1729.9 511.49,1730.5 500.48,1731.1 489.47,1731.71 478.46,1732.31 467.45,1732.91 456.44,1733.52 445.43,1734.12 434.42,1734.72 423.41,1735.33 412.4,1735.93 401.39,1736.53 390.38,1737.14 379.37,1737.74 368.36,1738.34 357.35,1738.95 346.34,1739.55 335.33,1740.16 324.32,1740.76 313.31,1741.36 302.3,1741.97 291.29,1742.57 280.28,1743.17 269.27,1743.78 258.26,1744.38 247.25,1744.98 236.24,1745.59 225.23,1746.19 214.22,1746.79 203.21,1747.4 192.2,1748" fill="#1740B0" fill-opacity="0.2"/>
<polyline points="192.2,1750.4 203.21,1750.3 214.22,1750.2 225.23,1750.11 236.24,1750.01 247.25,1749.91 258.26,1749.81 269.27,1749.71 280.28,1749.39 291.29,1749.03 302.3,1748.68 313.31,1748.32 324.32,1747.97 335.33,1747.61 346.34,1746.97 357.35,1746.2 368.36,1745.43 379.37,1744.65 390.38,1743.88 401.39,1743.11 412.4,1742.34 423.41,1741.56 434.42,1740.92 445.43,1740.28 456.44,1739.65 467.45,1739.01 478.46,1738.38 489.47,1737.86 500.48,1737.5 511.49,1737.15 522.5,1736.79 533.51,1736.44 544.52,1736.08 555.53,1735.77 566.54,1735.59 577.55,1735.42 588.56,1735.25 599.57,1735.08 610.58,1734.91 621.59,1734.74 632.6,1734.6 643.61,1734.61 654.62,1734.62 665.63,1734.62 676.64,1734.63 687.65,1734.64 698.66,1734.64 709.67,1734.65 720.68,1734.66 731.69,1734.67 742.7,1734.67 753.71,1734.68 764.72,1734.69 775.73,1734.69 786.74,1734.67 797.75,1734.51 808.76,1734.35 819.77,1734.19 830.78,1734.03 841.79,1733.87 852.8,1733.71 863.81,1733.55 874.82,1733.39 885.83,1733.23 896.84,1733.01 907.85,1732.78 918.86,1732.56 929.87,1732.33 940.88,1732.11 951.89,1731.88 962.9,1731.63 973.91,1731.35 984.92,1731.08 995.93,1730.81 1006.94,1730.54 1017.95,1730.26 1028.96,1730.02 1039.97,1729.83 1050.98,1729.63 1061.99,1729.43 1073,1729.24 1084.01,1729.04 1095.02,1728.85 1106.03,1728.65 1117.04,1728.46 1128.05,1728.27 1139.06,1728.09 1150.07,1727.92 1161.08,1727.75 1172.09,1727.57 1183.1,1727.4 1194.11,1727.23 1205.12,1727.05 1216.13,1726.88 1227.14,1726.71 1238.15,1726.53 1249.16,1726.36 1260.17,1726.19 1271.18,1726.02 1282.19,1725.84 1293.2,1725.67 1304.21,1725.5 1315.22,1725.32 1326.23,1725.15 1337.24,1724.98 1348.25,1724.8 1359.26,1724.66 1370.27,1724.54 1381.28,1724.43 1392.29,1724.32 1403.3,1724.21 1414.31,1724.1 1425.32,1723.98 1436.33,1723.87 1447.34,1723.76 1458.35,1723.65 1469.36,1723.54 1480.37,1723.42 1491.38,1723.31 1502.39,1723.2 1513.4,1723.09 1524.41,1722.97 1535.42,1722.85 1546.43,1722.72 1557.44,1722.6" fill="none" stroke="#FFA500" stroke-width="2.1"/>
<polyline points="192.2,1735.2 203.21,1735.09 214.22,1734.98 225.23,1734.86 236.24,1734.75 247.25,1734.64 258.26,1734.53 269.27,1734.41 280.28,1733.83 291.29,1733.19 302.3,1732.54 313.31,1731.9 324.32,1731.25 335.33,1730.61 346.34,1729.85 357.35,1729.04 368.36,1728.22 379.37,1727.35 390.38,1726.43 401.39,1725.51 412.4,1724.59 423.41,1723.67 434.42,1722.85 445.43,1722.03 456.44,1721.22 467.45,1720.4 478.46,1719.59 489.47,1718.82 500.48,1718.13 511.49,1717.44 522.5,1716.74 533.51,1716.05 544.52,1715.35 555.53,1714.7 566.54,1714.22 577.55,1713.73 588.56,1713.25 599.57,1712.76 610.58,1712.27 621.59,1711.79 632.6,1711.37 643.61,1711.19 654.62,1711.02 665.63,1710.85 676.64,1710.68 687.65,1710.51 698.66,1710.34 709.67,1710.17 720.68,1710.05 731.69,1709.92 742.7,1709.79 753.71,1709.66 764.72,1709.54 775.73,1709.41 786.74,1709.26 797.75,1709.01 808.76,1708.77 819.77,1708.52 830.78,1708.27 841.79,1708.03 852.8,1707.78 863.81,1707.53 874.82,1707.29 885.83,1707.04 896.84,1706.7 907.85,1706.35 918.86,1705.99 929.87,1705.64 940.88,1705.28 951.89,1704.93 962.9,1704.46 973.91,1703.93 984.92,1703.4 995.93,1702.88 1006.94,1702.35 1017.95,1701.82 1028.96,1701.25 1039.97,1700.64 1050.98,1700.02 1061.99,1699.41 1073,1698.79 1084.01,1698.23 1095.02,1697.85 1106.03,1697.48 1117.04,1697.11 1128.05,1696.74 1139.06,1696.37 1150.07,1696 1161.08,1695.63 1172.09,1695.26 1183.1,1694.88 1194.11,1694.51 1205.12,1694.14 1216.13,1693.76 1227.14,1693.39 1238.15,1693.01 1249.16,1692.52 1260.17,1692.03 1271.18,1691.53 1282.19,1691.03 1293.2,1690.54 1304.21,1690.04 1315.22,1689.53 1326.23,1689.02 1337.24,1688.5 1348.25,1687.99 1359.26,1687.44 1370.27,1686.86 1381.28,1686.27 1392.29,1685.88 1403.3,1685.52 1414.31,1685.16 1425.32,1684.8 1436.33,1684.13 1447.34,1683.45 1458.35,1682.78 1469.36,1682.11 1480.37,1682 1491.38,1682 1502.39,1682 1513.4,1682 1524.41,1681.55 1535.42,1681.07 1546.43,1680.58 1557.44,1680.1" fill="none" stroke="#1C45B0" stroke-width="2.1"/>
<path d="M183.39 1731.8V1759.8M180.69 1731.8H186.09M180.69 1759.8H186.09M180.69 1802.4H186.09M201.01 1721V1756.5M198.31 1721H203.71M198.31 1756.5H203.71M198.31 1802.4H203.71M227.43 1729.6V1758.6M224.73 1729.6H230.13M224.73 1758.6H230.13M224.73 1802.4H230.13M245.05 1718V1753.2M242.35 1718H247.75M242.35 1753.2H247.75M242.35 1802.4H247.75M271.47 1727.2V1756.9M268.77 1727.2H274.17M268.77 1756.9H274.17M268.77 1802.4H274.17M289.09 1712.8V1748.3M286.39 1712.8H291.79M286.39 1748.3H291.79M286.39 1802.4H291.79M315.51 1722.7V1753.8M312.81 1722.7H318.21M312.81 1753.8H318.21M312.81 1802.4H318.21M333.13 1709.7V1745.2M330.43 1709.7H335.83M330.43 1745.2H335.83M330.43 1802.4H335.83M359.55 1718.4V1750.8M356.85 1718.4H362.25M356.85 1750.8H362.25M356.85 1802.4H362.25M377.17 1705.2V1742M374.47 1705.2H379.87M374.47 1742H379.87M374.47 1802.4H379.87M403.59 1715.3V1747.7M400.89 1715.3H406.29M400.89 1747.7H406.29M400.89 1802.4H406.29M421.21 1699.9V1737.2M418.51 1699.9H423.91M418.51 1737.2H423.91M418.51 1802.4H423.91M447.63 1711.8V1744.6M444.93 1711.8H450.33M444.93 1744.6H450.33M444.93 1802.4H450.33M465.25 1697.4V1735.5M462.55 1697.4H467.95M462.55 1735.5H467.95M462.55 1802.4H467.95M491.67 1709.3V1743M488.97 1709.3H494.37M488.97 1743H494.37M488.97 1802.4H494.37M509.29 1691.3V1734.8M506.59 1691.3H511.99M506.59 1734.8H511.99M506.59 1802.4H511.99M535.71 1705.5V1740.4M533.01 1705.5H538.41M533.01 1740.4H538.41M533.01 1802.4H538.41M553.33 1686.7V1731.2M550.63 1686.7H556.03M550.63 1731.2H556.03M550.63 1802.4H556.03M579.75 1703.5V1737.5M577.05 1703.5H582.45M577.05 1737.5H582.45M577.05 1802.4H582.45M597.37 1680.5V1727.3M594.67 1680.5H600.07M594.67 1727.3H600.07M594.67 1802.4H600.07M623.79 1699V1732.8M621.09 1699H626.49M621.09 1732.8H626.49M621.09 1802.4H626.49M641.41 1675.8V1723.2M638.71 1675.8H644.11M638.71 1723.2H644.11M638.71 1802.4H644.11M667.83 1696.5V1732.2M665.13 1696.5H670.53M665.13 1732.2H670.53M665.13 1802.4H670.53M685.45 1670.3V1720.5M682.75 1670.3H688.15M682.75 1720.5H688.15M682.75 1802.4H688.15M711.87 1691.4V1729.7M709.17 1691.4H714.57M709.17 1729.7H714.57M709.17 1802.4H714.57M729.49 1666.2V1715.8M726.79 1666.2H732.19M726.79 1715.8H732.19M726.79 1802.4H732.19M755.91 1687.1V1726.3M753.21 1687.1H758.61M753.21 1726.3H758.61M753.21 1802.4H758.61M773.53 1660V1711.3M770.83 1660H776.23M770.83 1711.3H776.23M770.83 1802.4H776.23M799.95 1681.1V1723M797.25 1681.1H802.65M797.25 1723H802.65M797.25 1802.4H802.65M817.57 1651.8V1704.5M814.87 1651.8H820.27M814.87 1704.5H820.27M814.87 1802.4H820.27M843.99 1674.8V1719.5M841.29 1674.8H846.69M841.29 1719.5H846.69M841.29 1802.4H846.69M861.61 1643.6V1702.6M858.91 1643.6H864.31M858.91 1702.6H864.31M858.91 1802.4H864.31M888.03 1665.7V1715.8M885.33 1665.7H890.73M885.33 1715.8H890.73M885.33 1802.4H890.73M905.65 1637V1698M902.95 1637H908.35M902.95 1698H908.35M902.95 1802.4H908.35M932.07 1660.4V1711.9M929.37 1660.4H934.77M929.37 1711.9H934.77M929.37 1802.4H934.77M949.69 1625.5V1692.4M946.99 1625.5H952.39M946.99 1692.4H952.39M946.99 1802.4H952.39M976.11 1652.2V1707.6M973.41 1652.2H978.81M973.41 1707.6H978.81M973.41 1802.4H978.81M993.73 1617.5V1686M991.03 1617.5H996.43M991.03 1686H996.43M991.03 1802.4H996.43M1020.15 1646V1705.1M1017.45 1646H1022.85M1017.45 1705.1H1022.85M1017.45 1802.4H1022.85M1037.77 1608.3V1679.5M1035.07 1608.3H1040.47M1035.07 1679.5H1040.47M1035.07 1802.4H1040.47M1064.19 1640.1V1702.5M1061.49 1640.1H1066.89M1061.49 1702.5H1066.89M1061.49 1802.4H1066.89M1081.81 1596.4V1674.4M1079.11 1596.4H1084.51M1079.11 1674.4H1084.51M1079.11 1802.4H1084.51M1108.23 1631.3V1700M1105.53 1631.3H1110.93M1105.53 1700H1110.93M1105.53 1802.4H1110.93M1125.85 1586.6V1668.6M1123.15 1586.6H1128.55M1123.15 1668.6H1128.55M1123.15 1802.4H1128.55M1152.27 1623.1V1695.5M1149.57 1623.1H1154.97M1149.57 1695.5H1154.97M1149.57 1802.4H1154.97M1169.89 1574.9V1663.5M1167.19 1574.9H1172.59M1167.19 1663.5H1172.59M1167.19 1802.4H1172.59M1196.31 1615.9V1693.4M1193.61 1615.9H1199.01M1193.61 1693.4H1199.01M1193.61 1802.4H1199.01M1213.93 1562.8V1657.8M1211.23 1562.8H1216.63M1211.23 1657.8H1216.63M1211.23 1802.4H1216.63M1240.35 1604.6V1690M1237.65 1604.6H1243.05M1237.65 1690H1243.05M1237.65 1802.4H1243.05M1257.97 1551.2V1650.8M1255.27 1551.2H1260.67M1255.27 1650.8H1260.67M1255.27 1802.4H1260.67M1284.39 1596.8V1683.9M1281.69 1596.8H1287.09M1281.69 1683.9H1287.09M1281.69 1802.4H1287.09M1302.01 1541.9V1644.4M1299.31 1541.9H1304.71M1299.31 1644.4H1304.71M1299.31 1802.4H1304.71M1328.43 1585.2V1680M1325.73 1585.2H1331.13M1325.73 1680H1331.13M1325.73 1802.4H1331.13M1346.05 1527.7V1636.5M1343.35 1527.7H1348.75M1343.35 1636.5H1348.75M1343.35 1802.4H1348.75M1372.47 1576.1V1675.4M1369.77 1576.1H1375.17M1369.77 1675.4H1375.17M1369.77 1802.4H1375.17M1390.09 1518V1629.6M1387.39 1518H1392.79M1387.39 1629.6H1392.79M1387.39 1802.4H1392.79M1416.51 1565.8V1671.3M1413.81 1565.8H1419.21M1413.81 1671.3H1419.21M1413.81 1802.4H1419.21M1434.13 1496.1V1618.5M1431.43 1496.1H1436.83M1431.43 1618.5H1436.83M1431.43 1802.4H1436.83M1460.55 1555.8V1665.2M1457.85 1555.8H1463.25M1457.85 1665.2H1463.25M1457.85 1802.4H1463.25M1478.17 1471.9V1608.7M1475.47 1471.9H1480.87M1475.47 1608.7H1480.87M1475.47 1802.4H1480.87M1504.59 1541.9V1662.2M1501.89 1541.9H1507.29M1501.89 1662.2H1507.29M1501.89 1802.4H1507.29M1522.21 1467.8V1603M1519.51 1467.8H1524.91M1519.51 1603H1524.91M1519.51 1802.4H1524.91M1548.63 1530V1655.4M1545.93 1530H1551.33M1545.93 1655.4H1551.33M1545.93 1802.4H1551.33M1566.25 1454.8V1597.7M1563.55 1454.8H1568.95M1563.55 1597.7H1568.95M1563.55 1802.4H1568.95" stroke="#111" stroke-width="1.3" fill="none"/>
<path d="M102.6 1802.1H105.8M1643.4 1802.1H1646.6M102.6 1709.6H105.8M1643.4 1709.6H1646.6M102.6 1617.1H105.8M1643.4 1617.1H1646.6M102.6 1524.6H105.8M1643.4 1524.6H1646.6M192.2 1819V1822.2M632.6 1819V1822.2M1073 1819V1822.2M1513.4 1819V1822.2" stroke="#333" stroke-width="1" fill="none"/>
<text x="100.3" y="1805.5" text-anchor="end" font-family="'Liberation Sans', Arial, Helvetica, sans-serif" font-size="9.75" fill="#4D4D4D">0</text>
<text x="100.3" y="1713" text-anchor="end" font-family="'Liberation Sans', Arial, Helvetica, sans-serif" font-size="9.75" fill="#4D4D4D">10000</text>
<text x="100.3" y="1620.5" text-anchor="end" font-family="'Liberation Sans', Arial, Helvetica, sans-serif" font-size="9.75" fill="#4D4D4D">20000</text>
<text x="100.3" y="1528" text-anchor="end" font-family="'Liberation Sans', Arial, Helvetica, sans-serif" font-size="9.75" fill="#4D4D4D">30000</text>
<text x="1648.7" y="1805.5" font-family="'Liberation Sans', Arial, Helvetica, sans-serif" font-size="9.75" fill="#4D4D4D">0</text>
<text x="1648.7" y="1713" font-family="'Liberation Sans', Arial, Helvetica, sans-serif" font-size="9.75" fill="#4D4D4D">1</text>
<text x="1648.7" y="1620.5" font-family="'Liberation Sans', Arial, Helvetica, sans-serif" font-size="9.75" fill="#4D4D4D">2</text>
<text x="1648.7" y="1528" font-family="'Liberation Sans', Arial, Helvetica, sans-serif" font-size="9.75" fill="#4D4D4D">3</text>
<text x="192.2" y="1832.6" text-anchor="middle" font-family="'Liberation Sans', Arial, Helvetica, sans-serif" font-size="9.9" fill="#4D4D4D">1990</text>
<text x="632.6" y="1832.6" text-anchor="middle" font-family="'Liberation Sans', Arial, Helvetica, sans-serif" font-size="9.9" fill="#4D4D4D">2000</text>
<text x="1073" y="1832.6" text-anchor="middle" font-family="'Liberation Sans', Arial, Helvetica, sans-serif" font-size="9.9" fill="#4D4D4D">2010</text>
<text x="1513.4" y="1832.6" text-anchor="middle" font-family="'Liberation Sans', Arial, Helvetica, sans-serif" font-size="9.9" fill="#4D4D4D">2020</text>
<text x="875" y="1846.5" text-anchor="middle" font-family="'Liberation Sans', Arial, Helvetica, sans-serif" font-size="12.3" fill="#1a1a1a">Year</text>
<text transform="translate(67.1,1628.4) rotate(-90)" text-anchor="middle" font-family="'Liberation Sans', Arial, Helvetica, sans-serif" font-size="12.4" fill="#1a1a1a">Incidence Number</text>
<text transform="translate(1661.1,1628.6) rotate(90)" text-anchor="middle" font-family="'Liberation Sans', Arial, Helvetica, sans-serif" font-size="12.4" fill="#1a1a1a">Age-standardized Incidence rate per 100,000</text>
<text x="1689.3" y="1569.2" font-family="'Liberation Sans', Arial, Helvetica, sans-serif" font-size="12.1" fill="#1a1a1a">Number</text>
<rect x="1689.7" y="1577.3" width="18.2" height="17.9" fill="#FFA800"/>
<rect x="1689.7" y="1597.2" width="18.2" height="17.8" fill="#1740B0"/>
<text x="1714.9" y="1590.3" font-family="'Liberation Sans', Arial, Helvetica, sans-serif" font-size="9.75" fill="#1a1a1a">Female</text>
<text x="1714.9" y="1610.2" font-family="'Liberation Sans', Arial, Helvetica, sans-serif" font-size="9.75" fill="#1a1a1a">Male</text>
<text x="1689.3" y="1651.1" font-family="'Liberation Sans', Arial, Helvetica, sans-serif" font-size="12.1" fill="#1a1a1a">Rate</text>
<rect x="1689.0" y="1658.8" width="19" height="38.1" fill="#E6E6E8"/>
<path d="M1690.5 1668.6H1706.5" stroke="#FFA500" stroke-width="2.3"/>
<path d="M1690.5 1688H1706.5" stroke="#1C45B0" stroke-width="2.3"/>
<text x="1714.9" y="1671.8" font-family="'Liberation Sans', Arial, Helvetica, sans-serif" font-size="9.75" fill="#1a1a1a">Female</text>
<text x="1714.9" y="1691.3" font-family="'Liberation Sans', Arial, Helvetica, sans-serif" font-size="9.75" fill="#1a1a1a">Male</text>
</svg></body></html>
